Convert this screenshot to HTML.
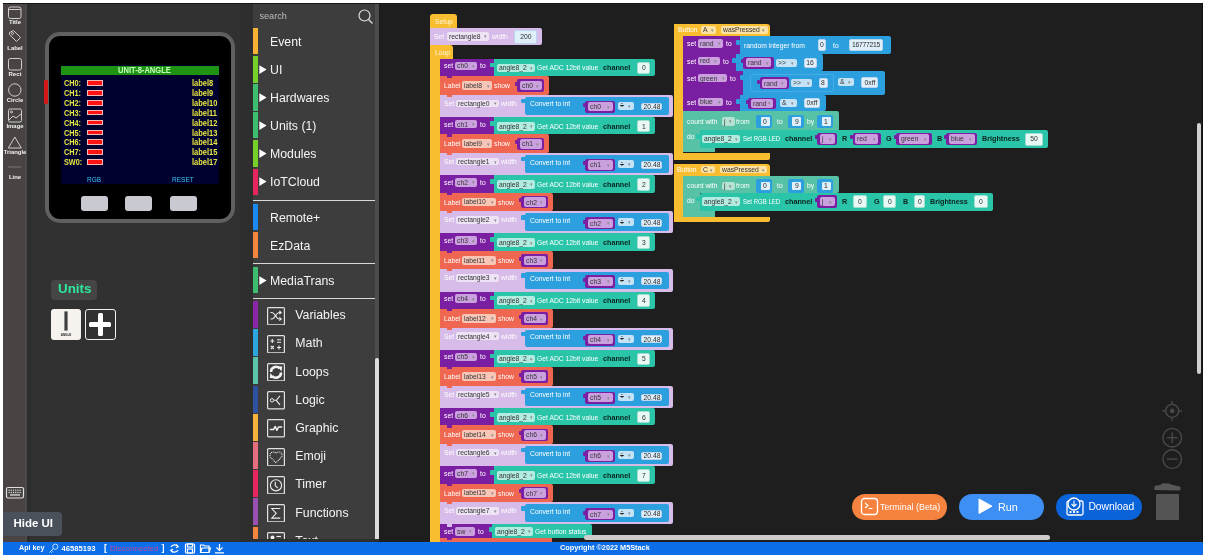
<!DOCTYPE html>
<html><head><meta charset="utf-8"><title>UIFlow</title>
<style>
*{margin:0;padding:0;box-sizing:border-box}
html,body{width:1207px;height:559px;overflow:hidden;background:#fff;font-family:"Liberation Sans",Arial,sans-serif;position:relative}
.a{position:absolute}
.t{position:absolute;white-space:nowrap}
</style></head><body>
<div class="a" style="left:3.00px;top:3.00px;width:1200.00px;height:539.00px;background:#1e1e1e;"></div>
<div class="a" style="left:3.00px;top:3.00px;width:24.00px;height:539.00px;background:#494443;"></div>
<div class="a" style="left:24.50px;top:3.00px;width:2.50px;height:539.00px;background:#4b4a48;"></div>
<div class="a" style="left:27.00px;top:3.00px;width:226.00px;height:539.00px;background:#313131;"></div>
<div class="a" style="left:27.00px;top:3.00px;width:4.00px;height:539.00px;background:#2d2d2d;"></div>
<div class="a" style="left:253.00px;top:3.00px;width:125.00px;height:539.00px;background:#3d3d3d;"></div>
<div class="a" style="left:240.00px;top:3.00px;width:13.00px;height:539.00px;background:#2e2e2e;"></div>
<div class="a" style="left:375.00px;top:3.00px;width:3.50px;height:355.00px;background:#4d4d4d;"></div>
<div class="a" style="left:375.00px;top:358.00px;width:3.50px;height:184.00px;background:#dcdcdc;border-radius:1.5px;"></div>
<div class="a" style="left:378.50px;top:3.00px;width:1.00px;height:539.00px;background:#1a1a1a;"></div>
<div class="a" style="left:3.00px;top:3.00px;width:1200.00px;height:1.00px;background:#151515;"></div>
<div class="a" style="left:1202.00px;top:3.00px;width:1.00px;height:539.00px;background:#111;"></div>
<svg class="a" style="left:3px;top:3px;" width="24" height="185" viewBox="0 0 24 185"><g fill="none" stroke="#cfcfcf" stroke-width="1"><rect x="5.5" y="4" width="12.5" height="11.5" rx="2"/><line x1="6" y1="6.5" x2="17.5" y2="6.5"/><path d="M6.5 29.5 L10.5 27.5 L17.5 34.5 L13.5 38.5 L6.5 31.5 Z" stroke-linejoin="round"/><circle cx="9.5" cy="30.5" r="1"/><rect x="5.5" y="55.5" width="13" height="11.5" rx="2"/><circle cx="11.8" cy="87" r="6.2"/><rect x="5.5" y="106" width="13" height="13" rx="1.5"/><path d="M6 117 L10 113 L13 115 L18 111"/><circle cx="8.5" cy="109" r="1"/><path d="M11.8 134 L5.3 145 L18.3 145 Z" stroke-linejoin="round"/></g><line x1="5" y1="164" x2="18.5" y2="164" stroke="#777" stroke-width="1"/></svg>
<div class="t" style="left:-185.00px;width:400px;text-align:center;top:19.36px;height:7.08px;line-height:7.08px;font-size:5.9px;color:#f2f2f2;font-weight:bold;">Title</div>
<div class="t" style="left:-185.00px;width:400px;text-align:center;top:45.06px;height:7.08px;line-height:7.08px;font-size:5.9px;color:#f2f2f2;font-weight:bold;">Label</div>
<div class="t" style="left:-185.00px;width:400px;text-align:center;top:71.46px;height:7.08px;line-height:7.08px;font-size:5.9px;color:#f2f2f2;font-weight:bold;">Rect</div>
<div class="t" style="left:-185.00px;width:400px;text-align:center;top:97.46px;height:7.08px;line-height:7.08px;font-size:5.9px;color:#f2f2f2;font-weight:bold;">Circle</div>
<div class="t" style="left:-185.00px;width:400px;text-align:center;top:123.06px;height:7.08px;line-height:7.08px;font-size:5.9px;color:#f2f2f2;font-weight:bold;">Image</div>
<div class="t" style="left:-185.00px;width:400px;text-align:center;top:148.96px;height:7.08px;line-height:7.08px;font-size:5.9px;color:#f2f2f2;font-weight:bold;">Triangle</div>
<div class="t" style="left:-185.00px;width:400px;text-align:center;top:174.46px;height:7.08px;line-height:7.08px;font-size:5.9px;color:#f2f2f2;font-weight:bold;">Line</div>
<svg class="a" style="left:5px;top:486px;" width="20" height="14" viewBox="0 0 20 14"><rect x="1.5" y="1.5" width="17" height="10.5" rx="1.5" fill="none" stroke="#e0e0e0" stroke-width="1.2"/><rect x="3.5" y="3.6" width="1.2" height="1.2" fill="#e0e0e0"/><rect x="3.5" y="5.9" width="1.2" height="1.2" fill="#e0e0e0"/><rect x="5.7" y="3.6" width="1.2" height="1.2" fill="#e0e0e0"/><rect x="5.7" y="5.9" width="1.2" height="1.2" fill="#e0e0e0"/><rect x="7.9" y="3.6" width="1.2" height="1.2" fill="#e0e0e0"/><rect x="7.9" y="5.9" width="1.2" height="1.2" fill="#e0e0e0"/><rect x="10.1" y="3.6" width="1.2" height="1.2" fill="#e0e0e0"/><rect x="10.1" y="5.9" width="1.2" height="1.2" fill="#e0e0e0"/><rect x="12.3" y="3.6" width="1.2" height="1.2" fill="#e0e0e0"/><rect x="12.3" y="5.9" width="1.2" height="1.2" fill="#e0e0e0"/><rect x="14.5" y="3.6" width="1.2" height="1.2" fill="#e0e0e0"/><rect x="14.5" y="5.9" width="1.2" height="1.2" fill="#e0e0e0"/><rect x="5" y="8.3" width="10" height="1.3" fill="#e0e0e0"/></svg>
<div class="a" style="left:3.00px;top:512.00px;width:58.70px;height:23.70px;background:#4a515b;border-radius:0 4px 4px 0px;"></div>
<div class="t" style="left:13.40px;top:516.70px;height:13.80px;line-height:13.80px;font-size:11.5px;color:#fff;font-weight:bold;">Hide UI</div>
<div class="a" style="left:44.60px;top:31.70px;width:190.90px;height:190.90px;background:#606060;border-radius:15px;"></div>
<div class="a" style="left:48.60px;top:35.70px;width:182.90px;height:182.90px;background:#000;border-radius:11px;"></div>
<div class="a" style="left:44.00px;top:80.00px;width:3.50px;height:23.50px;background:#d41818;border-radius:1px;"></div>
<div class="a" style="left:61.00px;top:65.00px;width:158.00px;height:119.00px;background:#00002e;"></div>
<div class="a" style="left:61.00px;top:65.50px;width:158.00px;height:9.70px;background:#1e9412;"></div>
<div class="t" style="left:118.10px;top:65.36px;height:10.08px;line-height:10.08px;font-size:8.4px;color:#c4ffbc;font-weight:bold;transform:scaleX(.9);transform-origin:0 50%;">UNIT-8-ANGLE</div>
<div class="t" style="left:63.90px;top:78.14px;height:10.32px;line-height:10.32px;font-size:8.6px;color:#e6e644;font-weight:bold;transform:scaleX(.85);transform-origin:0 50%;">CH0:</div>
<div class="a" style="left:87.00px;top:80.20px;width:15.50px;height:5.60px;background:#ff1212;border:1px solid #f2b8b8;"></div>
<div class="t" style="left:192.20px;top:78.14px;height:10.32px;line-height:10.32px;font-size:8.6px;color:#e6e644;font-weight:bold;transform:scaleX(.87);transform-origin:0 50%;">label8</div>
<div class="t" style="left:63.90px;top:88.02px;height:10.32px;line-height:10.32px;font-size:8.6px;color:#e6e644;font-weight:bold;transform:scaleX(.85);transform-origin:0 50%;">CH1:</div>
<div class="a" style="left:87.00px;top:90.08px;width:15.50px;height:5.60px;background:#ff1212;border:1px solid #f2b8b8;"></div>
<div class="t" style="left:192.20px;top:88.02px;height:10.32px;line-height:10.32px;font-size:8.6px;color:#e6e644;font-weight:bold;transform:scaleX(.87);transform-origin:0 50%;">label9</div>
<div class="t" style="left:63.90px;top:97.90px;height:10.32px;line-height:10.32px;font-size:8.6px;color:#e6e644;font-weight:bold;transform:scaleX(.85);transform-origin:0 50%;">CH2:</div>
<div class="a" style="left:87.00px;top:99.96px;width:15.50px;height:5.60px;background:#ff1212;border:1px solid #f2b8b8;"></div>
<div class="t" style="left:192.20px;top:97.90px;height:10.32px;line-height:10.32px;font-size:8.6px;color:#e6e644;font-weight:bold;transform:scaleX(.87);transform-origin:0 50%;">label10</div>
<div class="t" style="left:63.90px;top:107.78px;height:10.32px;line-height:10.32px;font-size:8.6px;color:#e6e644;font-weight:bold;transform:scaleX(.85);transform-origin:0 50%;">CH3:</div>
<div class="a" style="left:87.00px;top:109.84px;width:15.50px;height:5.60px;background:#ff1212;border:1px solid #f2b8b8;"></div>
<div class="t" style="left:192.20px;top:107.78px;height:10.32px;line-height:10.32px;font-size:8.6px;color:#e6e644;font-weight:bold;transform:scaleX(.87);transform-origin:0 50%;">label11</div>
<div class="t" style="left:63.90px;top:117.66px;height:10.32px;line-height:10.32px;font-size:8.6px;color:#e6e644;font-weight:bold;transform:scaleX(.85);transform-origin:0 50%;">CH4:</div>
<div class="a" style="left:87.00px;top:119.72px;width:15.50px;height:5.60px;background:#ff1212;border:1px solid #f2b8b8;"></div>
<div class="t" style="left:192.20px;top:117.66px;height:10.32px;line-height:10.32px;font-size:8.6px;color:#e6e644;font-weight:bold;transform:scaleX(.87);transform-origin:0 50%;">label12</div>
<div class="t" style="left:63.90px;top:127.54px;height:10.32px;line-height:10.32px;font-size:8.6px;color:#e6e644;font-weight:bold;transform:scaleX(.85);transform-origin:0 50%;">CH5:</div>
<div class="a" style="left:87.00px;top:129.60px;width:15.50px;height:5.60px;background:#ff1212;border:1px solid #f2b8b8;"></div>
<div class="t" style="left:192.20px;top:127.54px;height:10.32px;line-height:10.32px;font-size:8.6px;color:#e6e644;font-weight:bold;transform:scaleX(.87);transform-origin:0 50%;">label13</div>
<div class="t" style="left:63.90px;top:137.42px;height:10.32px;line-height:10.32px;font-size:8.6px;color:#e6e644;font-weight:bold;transform:scaleX(.85);transform-origin:0 50%;">CH6:</div>
<div class="a" style="left:87.00px;top:139.48px;width:15.50px;height:5.60px;background:#ff1212;border:1px solid #f2b8b8;"></div>
<div class="t" style="left:192.20px;top:137.42px;height:10.32px;line-height:10.32px;font-size:8.6px;color:#e6e644;font-weight:bold;transform:scaleX(.87);transform-origin:0 50%;">label14</div>
<div class="t" style="left:63.90px;top:147.30px;height:10.32px;line-height:10.32px;font-size:8.6px;color:#e6e644;font-weight:bold;transform:scaleX(.85);transform-origin:0 50%;">CH7:</div>
<div class="a" style="left:87.00px;top:149.36px;width:15.50px;height:5.60px;background:#ff1212;border:1px solid #f2b8b8;"></div>
<div class="t" style="left:192.20px;top:147.30px;height:10.32px;line-height:10.32px;font-size:8.6px;color:#e6e644;font-weight:bold;transform:scaleX(.87);transform-origin:0 50%;">label15</div>
<div class="t" style="left:63.90px;top:157.18px;height:10.32px;line-height:10.32px;font-size:8.6px;color:#e6e644;font-weight:bold;transform:scaleX(.85);transform-origin:0 50%;">SW0:</div>
<div class="a" style="left:87.00px;top:159.24px;width:15.50px;height:5.60px;background:#ff1212;border:1px solid #f2b8b8;"></div>
<div class="t" style="left:192.20px;top:157.18px;height:10.32px;line-height:10.32px;font-size:8.6px;color:#e6e644;font-weight:bold;transform:scaleX(.87);transform-origin:0 50%;">label17</div>
<div class="t" style="left:87.40px;top:174.74px;height:9.12px;line-height:9.12px;font-size:7.6px;color:#3cc3f0;transform:scaleX(.86);transform-origin:0 50%;">RGB</div>
<div class="t" style="left:171.50px;top:174.74px;height:9.12px;line-height:9.12px;font-size:7.6px;color:#3cc3f0;transform:scaleX(.86);transform-origin:0 50%;">RESET</div>
<div class="a" style="left:80.70px;top:195.70px;width:27.40px;height:15.00px;background:#c9c9d1;border-radius:3px;"></div>
<div class="a" style="left:125.00px;top:195.70px;width:27.40px;height:15.00px;background:#c9c9d1;border-radius:3px;"></div>
<div class="a" style="left:169.60px;top:195.70px;width:27.40px;height:15.00px;background:#c9c9d1;border-radius:3px;"></div>
<div class="a" style="left:51.00px;top:280.00px;width:46.00px;height:20.00px;background:#454545;border-radius:4px;"></div>
<div class="t" style="left:58.00px;top:281.26px;height:16.08px;line-height:16.08px;font-size:13.4px;color:#2ee89c;font-weight:bold;">Units</div>
<div class="a" style="left:50.70px;top:308.60px;width:30.70px;height:31.40px;background:#f6f3ef;border-radius:3px;"></div>
<div class="a" style="left:63.60px;top:310.70px;width:4.40px;height:20.70px;background:#3f3f3f;border-radius:1px;border:0.5px solid #888;"></div>
<div class="t" style="left:-134.00px;width:400px;text-align:center;top:333.70px;height:3.60px;line-height:3.60px;font-size:3px;color:#222;font-weight:bold;">ANGLE</div>
<div class="a" style="left:85.00px;top:308.60px;width:30.70px;height:31.40px;background:transparent;border-radius:3px;border:1.6px solid #f0f0f0;"></div>
<div class="a" style="left:89.00px;top:321.80px;width:22.40px;height:5.00px;background:#fff;border-radius:1.5px;"></div>
<div class="a" style="left:97.80px;top:312.50px;width:5.00px;height:23.50px;background:#fff;border-radius:1.5px;"></div>
<div class="t" style="left:259.50px;top:11.14px;height:10.92px;line-height:10.92px;font-size:9.1px;color:#bdbdbd;">search</div>
<svg class="a" style="left:357px;top:8px;" width="18" height="18" viewBox="0 0 18 18"><circle cx="7.5" cy="7.5" r="5.5" fill="none" stroke="#dedede" stroke-width="1.2"/><line x1="11.5" y1="11.5" x2="15.5" y2="15.5" stroke="#dedede" stroke-width="1.3"/></svg>
<div class="a" style="left:253.00px;top:28.00px;width:5.00px;height:26.00px;background:#f8b133;"></div>
<div class="t" style="left:270.00px;top:34.62px;height:14.76px;line-height:14.76px;font-size:12.3px;color:#f4f4f4;">Event</div>
<div class="a" style="left:253.00px;top:56.00px;width:5.00px;height:26.50px;background:#77cf2a;"></div>
<svg class="a" style="left:259.4px;top:64.95px;" width="8" height="10" viewBox="0 0 8 10"><path d="M0.3 0.3 L7.6 4.6 L0.3 8.9 Z" fill="#fff"/></svg>
<div class="t" style="left:270.00px;top:62.87px;height:14.76px;line-height:14.76px;font-size:12.3px;color:#f4f4f4;">UI</div>
<div class="a" style="left:253.00px;top:84.00px;width:5.00px;height:26.60px;background:#3cbd6f;"></div>
<svg class="a" style="left:259.4px;top:93.0px;" width="8" height="10" viewBox="0 0 8 10"><path d="M0.3 0.3 L7.6 4.6 L0.3 8.9 Z" fill="#fff"/></svg>
<div class="t" style="left:270.00px;top:90.92px;height:14.76px;line-height:14.76px;font-size:12.3px;color:#f4f4f4;">Hardwares</div>
<div class="a" style="left:253.00px;top:112.00px;width:5.00px;height:26.00px;background:#3cbd6f;"></div>
<svg class="a" style="left:259.4px;top:120.7px;" width="8" height="10" viewBox="0 0 8 10"><path d="M0.3 0.3 L7.6 4.6 L0.3 8.9 Z" fill="#fff"/></svg>
<div class="t" style="left:270.00px;top:118.62px;height:14.76px;line-height:14.76px;font-size:12.3px;color:#f4f4f4;">Units (1)</div>
<div class="a" style="left:253.00px;top:140.00px;width:5.00px;height:26.50px;background:#77cf2a;"></div>
<svg class="a" style="left:259.4px;top:148.95px;" width="8" height="10" viewBox="0 0 8 10"><path d="M0.3 0.3 L7.6 4.6 L0.3 8.9 Z" fill="#fff"/></svg>
<div class="t" style="left:270.00px;top:146.87px;height:14.76px;line-height:14.76px;font-size:12.3px;color:#f4f4f4;">Modules</div>
<div class="a" style="left:253.00px;top:168.50px;width:5.00px;height:26.50px;background:#e7265e;"></div>
<svg class="a" style="left:259.4px;top:177.45px;" width="8" height="10" viewBox="0 0 8 10"><path d="M0.3 0.3 L7.6 4.6 L0.3 8.9 Z" fill="#fff"/></svg>
<div class="t" style="left:270.00px;top:175.37px;height:14.76px;line-height:14.76px;font-size:12.3px;color:#f4f4f4;">IoTCloud</div>
<div class="a" style="left:253.00px;top:204.00px;width:5.00px;height:26.20px;background:#1a8af0;"></div>
<div class="t" style="left:270.00px;top:210.72px;height:14.76px;line-height:14.76px;font-size:12.3px;color:#f4f4f4;">Remote+</div>
<div class="a" style="left:253.00px;top:232.00px;width:5.00px;height:26.00px;background:#f5843f;"></div>
<div class="t" style="left:270.00px;top:238.62px;height:14.76px;line-height:14.76px;font-size:12.3px;color:#f4f4f4;">EzData</div>
<div class="a" style="left:253.00px;top:267.00px;width:5.00px;height:26.00px;background:#3cbd6f;"></div>
<svg class="a" style="left:259.4px;top:275.7px;" width="8" height="10" viewBox="0 0 8 10"><path d="M0.3 0.3 L7.6 4.6 L0.3 8.9 Z" fill="#fff"/></svg>
<div class="t" style="left:270.00px;top:273.62px;height:14.76px;line-height:14.76px;font-size:12.3px;color:#f4f4f4;">MediaTrans</div>
<div class="a" style="left:253.00px;top:200.00px;width:121.50px;height:1.20px;background:#d8d8d8;"></div>
<div class="a" style="left:253.00px;top:263.00px;width:121.50px;height:1.20px;background:#d8d8d8;"></div>
<div class="a" style="left:253.00px;top:298.00px;width:121.50px;height:1.20px;background:#d8d8d8;"></div>
<div class="a" style="left:253.00px;top:301.00px;width:5.00px;height:27.00px;background:#8b25a9;"></div>
<svg class="a" style="left:266.8px;top:306.5px;" width="18" height="18.5" viewBox="0 0 18 18.5"><rect x="0.6" y="0.6" width="16.8" height="17.3" rx="1" fill="none" stroke="#e2e2e2" stroke-width="1.2"/><path d="M3.5 5.5 L5 5.5 C8 5.5 9 12 12 12 L14 12 M3.5 12 L5 12 C8 12 9 5.5 12 5.5 L14 5.5" fill="none" stroke="#eee" stroke-width="1.2"/><path d="M12.3 3.8 L14.2 5.5 L12.3 7.2 M12.3 10.3 L14.2 12 L12.3 13.7" fill="none" stroke="#eee" stroke-width="1.1"/></svg>
<div class="t" style="left:295.30px;top:308.12px;height:14.76px;line-height:14.76px;font-size:12.3px;color:#f4f4f4;">Variables</div>
<div class="a" style="left:253.00px;top:329.20px;width:5.00px;height:27.00px;background:#2ca6df;"></div>
<svg class="a" style="left:266.8px;top:334.7px;" width="18" height="18.5" viewBox="0 0 18 18.5"><rect x="0.6" y="0.6" width="16.8" height="17.3" rx="1" fill="none" stroke="#e2e2e2" stroke-width="1.2"/><path d="M3.3 6 L7.3 6 M5.3 4 L5.3 8 M10 4.8 L14 4.8 M10 7.2 L14 7.2 M3.8 11 L6.8 14 M6.8 11 L3.8 14 M10 12.5 L14 12.5 M12 10.5 L12 14.5" fill="none" stroke="#eee" stroke-width="1.1"/></svg>
<div class="t" style="left:295.30px;top:336.32px;height:14.76px;line-height:14.76px;font-size:12.3px;color:#f4f4f4;">Math</div>
<div class="a" style="left:253.00px;top:357.40px;width:5.00px;height:27.00px;background:#5ac5a8;"></div>
<svg class="a" style="left:266.8px;top:362.9px;" width="18" height="18.5" viewBox="0 0 18 18.5"><rect x="0.6" y="0.6" width="16.8" height="17.3" rx="1" fill="none" stroke="#e2e2e2" stroke-width="1.2"/><path d="M4 9 A5 5 0 0 1 12.6 5.4" fill="none" stroke="#f2f2f2" stroke-width="2.6"/><path d="M10.3 3.2 L15.2 3.6 L14.6 8.5 Z" fill="#f2f2f2"/><path d="M14 9.5 A5 5 0 0 1 5.4 13.1" fill="none" stroke="#f2f2f2" stroke-width="2.6"/><path d="M7.7 15.3 L2.8 14.9 L3.4 10 Z" fill="#f2f2f2"/></svg>
<div class="t" style="left:295.30px;top:364.52px;height:14.76px;line-height:14.76px;font-size:12.3px;color:#f4f4f4;">Loops</div>
<div class="a" style="left:253.00px;top:385.60px;width:5.00px;height:27.00px;background:#2f52a0;"></div>
<svg class="a" style="left:266.8px;top:391.1px;" width="18" height="18.5" viewBox="0 0 18 18.5"><rect x="0.6" y="0.6" width="16.8" height="17.3" rx="1" fill="none" stroke="#e2e2e2" stroke-width="1.2"/><circle cx="5" cy="9.3" r="1.7" fill="none" stroke="#eee" stroke-width="1"/><path d="M7 9.3 L9.3 9.3 L13 4.8 M9.3 9.3 L13 13.8" fill="none" stroke="#eee" stroke-width="1.1"/></svg>
<div class="t" style="left:295.30px;top:392.72px;height:14.76px;line-height:14.76px;font-size:12.3px;color:#f4f4f4;">Logic</div>
<div class="a" style="left:253.00px;top:413.80px;width:5.00px;height:27.00px;background:#f6b33c;"></div>
<svg class="a" style="left:266.8px;top:419.3px;" width="18" height="18.5" viewBox="0 0 18 18.5"><rect x="0.6" y="0.6" width="16.8" height="17.3" rx="1" fill="none" stroke="#e2e2e2" stroke-width="1.2"/><path d="M2.8 10.5 L6.5 10.5 L8.3 7.5 L9.8 11.3 L11.5 8 L15.2 8" fill="none" stroke="#eee" stroke-width="1.5" stroke-linejoin="round"/></svg>
<div class="t" style="left:295.30px;top:420.92px;height:14.76px;line-height:14.76px;font-size:12.3px;color:#f4f4f4;">Graphic</div>
<div class="a" style="left:253.00px;top:442.00px;width:5.00px;height:27.00px;background:#e56e7e;"></div>
<svg class="a" style="left:266.8px;top:447.5px;" width="18" height="18.5" viewBox="0 0 18 18.5"><rect x="0.6" y="0.6" width="16.8" height="17.3" rx="1" fill="none" stroke="#e2e2e2" stroke-width="1.2"/><path d="M9 14.8 L3.6 9.3 A2.9 2.9 0 0 1 9 5.3 A2.9 2.9 0 0 1 14.4 9.3 Z" fill="none" stroke="#eee" stroke-width="1.1" stroke-dasharray="1 0.8"/></svg>
<div class="t" style="left:295.30px;top:449.12px;height:14.76px;line-height:14.76px;font-size:12.3px;color:#f4f4f4;">Emoji</div>
<div class="a" style="left:253.00px;top:470.20px;width:5.00px;height:27.00px;background:#e7265e;"></div>
<svg class="a" style="left:266.8px;top:475.7px;" width="18" height="18.5" viewBox="0 0 18 18.5"><rect x="0.6" y="0.6" width="16.8" height="17.3" rx="1" fill="none" stroke="#e2e2e2" stroke-width="1.2"/><circle cx="9" cy="9.3" r="5.6" fill="none" stroke="#eee" stroke-width="1.1"/><path d="M8.3 5.8 L8.3 9.8 L10.8 12" fill="none" stroke="#eee" stroke-width="1.1"/></svg>
<div class="t" style="left:295.30px;top:477.32px;height:14.76px;line-height:14.76px;font-size:12.3px;color:#f4f4f4;">Timer</div>
<div class="a" style="left:253.00px;top:498.40px;width:5.00px;height:27.00px;background:#9950b2;"></div>
<svg class="a" style="left:266.8px;top:503.9px;" width="18" height="18.5" viewBox="0 0 18 18.5"><rect x="0.6" y="0.6" width="16.8" height="17.3" rx="1" fill="none" stroke="#e2e2e2" stroke-width="1.2"/><path d="M13.3 4.5 L4.8 4.5 L9.2 9.3 L4.8 14.1 L13.3 14.1" fill="none" stroke="#eee" stroke-width="1.1"/></svg>
<div class="t" style="left:295.30px;top:505.52px;height:14.76px;line-height:14.76px;font-size:12.3px;color:#f4f4f4;">Functions</div>
<div class="a" style="left:253.00px;top:526.60px;width:5.00px;height:15.40px;background:#f5843f;"></div>
<svg class="a" style="left:266.8px;top:532.1px;" width="18" height="18.5" viewBox="0 0 18 18.5"><rect x="0.6" y="0.6" width="16.8" height="17.3" rx="1" fill="none" stroke="#e2e2e2" stroke-width="1.2"/><circle cx="5.5" cy="5.5" r="2" fill="#eee"/><path d="M9.5 4.5 L14 4.5" stroke="#eee" stroke-width="1.2"/></svg>
<div class="t" style="left:295.30px;top:533.72px;height:14.76px;line-height:14.76px;font-size:12.3px;color:#f4f4f4;">Text</div>
<div class="a" style="left:240.00px;top:539.30px;width:138.50px;height:2.70px;background:#2f2f2f;"></div>
<svg class="a" style="left:1160px;top:398px;" width="25" height="75" viewBox="0 0 25 75"><g fill="none" stroke="#494949" stroke-width="1.4"><circle cx="12.2" cy="12.9" r="6.5"/><line x1="12.2" y1="3" x2="12.2" y2="6.4"/><line x1="12.2" y1="19.4" x2="12.2" y2="22.8"/><line x1="2.3" y1="12.9" x2="5.7" y2="12.9"/><line x1="18.7" y1="12.9" x2="22.1" y2="12.9"/><circle cx="12.2" cy="39.7" r="9.3"/><line x1="7" y1="39.7" x2="17.4" y2="39.7"/><line x1="12.2" y1="34.5" x2="12.2" y2="44.9"/><circle cx="12.2" cy="61.1" r="9.3"/><line x1="7" y1="61.1" x2="17.4" y2="61.1"/></g><circle cx="12.2" cy="12.9" r="2.3" fill="#494949"/></svg>
<svg class="a" style="left:1152px;top:480px;" width="32" height="14" viewBox="0 0 32 14"><path d="M2.5 6 L8 5 L11 3.2 L17 3.4 L19 4.6 L28.5 6.8 L28.3 10.6 L2.3 10 Z" fill="#575757"/></svg>
<div class="a" style="left:1155.70px;top:493.70px;width:23.00px;height:26.00px;background:#545454;border-radius:1px;"></div>
<div class="a" style="left:852.00px;top:494.00px;width:95.00px;height:26.00px;background:#f5823f;border-radius:13px;"></div>
<svg class="a" style="left:860px;top:497px;" width="19" height="19" viewBox="0 0 19 19"><rect x="1.5" y="1.5" width="16" height="16" rx="3" fill="none" stroke="#fff" stroke-width="1.3"/><path d="M5 6 L8 8.5 L5 11" fill="none" stroke="#fff" stroke-width="1.1"/><line x1="8.5" y1="11.5" x2="12.5" y2="11.5" stroke="#fff" stroke-width="1.1"/></svg>
<div class="t" style="left:880.00px;top:501.96px;height:10.68px;line-height:10.68px;font-size:8.9px;color:#fff;">Terminal (Beta)</div>
<div class="a" style="left:958.70px;top:494.00px;width:85.60px;height:26.00px;background:#3e8ff3;border-radius:13px;"></div>
<svg class="a" style="left:978px;top:498px;" width="15" height="17" viewBox="0 0 15 17"><path d="M1 1 L14 8.2 L1 15.5 Z" fill="#fff" stroke="#fff" stroke-width="1" stroke-linejoin="round"/></svg>
<div class="t" style="left:998.00px;top:500.52px;height:12.96px;line-height:12.96px;font-size:10.8px;color:#fff;">Run</div>
<div class="a" style="left:1056.00px;top:494.00px;width:86.00px;height:26.00px;background:#0b63da;border-radius:13px;"></div>
<svg class="a" style="left:1065px;top:496px;" width="20" height="21" viewBox="0 0 20 21"><rect x="2" y="5" width="16" height="14" rx="1.5" fill="none" stroke="#fff" stroke-width="1.3"/><circle cx="9" cy="8" r="6" fill="#0b63da" stroke="#fff" stroke-width="1.3"/><path d="M9 4.5 L9 10.5 M6.5 8 L9 10.5 L11.5 8" fill="none" stroke="#fff" stroke-width="1.1"/><rect x="4.5" y="15" width="2" height="2" fill="#fff"/><rect x="8" y="15" width="2" height="2" fill="#fff"/><rect x="11.5" y="15" width="2" height="2" fill="#fff"/></svg>
<div class="t" style="left:1088.40px;top:500.82px;height:12.36px;line-height:12.36px;font-size:10.3px;color:#fff;">Download</div>
<div class="a" style="left:430.00px;top:14.30px;width:27.00px;height:14.00px;background:#f8be30;border-radius:3px 3px 0 0px;"></div>
<div class="t" style="left:434.50px;top:17.24px;height:9.12px;line-height:9.12px;font-size:7.6px;color:#fff8e0;transform:scaleX(.89);transform-origin:0 50%;">Setup</div>
<div class="a" style="left:430.00px;top:27.70px;width:111.70px;height:17.70px;background:#d7bbe9;border-radius:0 2px 2px 0px;"></div>
<div class="t" style="left:433.50px;top:31.74px;height:9.12px;line-height:9.12px;font-size:7.6px;color:#fff;transform:scaleX(.89);transform-origin:0 50%;">Set</div>
<div class="a" style="left:447.00px;top:32.00px;width:42.40px;height:8.60px;background:#eee3f5;border-radius:2px;"></div>
<div class="t" style="left:449.20px;top:31.74px;height:9.12px;line-height:9.12px;font-size:7.6px;color:#333;transform:scaleX(.89);transform-origin:0 50%;">rectangle8</div>
<div class="t" style="left:483.90px;top:33.30px;height:6.00px;line-height:6.00px;font-size:5px;color:#888;">▾</div>
<div class="t" style="left:492.00px;top:31.74px;height:9.12px;line-height:9.12px;font-size:7.6px;color:#fff;transform:scaleX(.89);transform-origin:0 50%;">width</div>
<div class="a" style="left:514.00px;top:30.00px;width:23.20px;height:13.60px;background:#e0f0fa;border-radius:2px;border:1px solid #bcd5ef;"></div>
<div class="t" style="left:325.60px;width:400px;text-align:center;top:32.24px;height:9.12px;line-height:9.12px;font-size:7.6px;color:#2a2a2a;transform:scaleX(.89);transform-origin:50% 50%;">200</div>
<div class="a" style="left:430.00px;top:45.40px;width:9.50px;height:500.00px;background:#f8be30;"></div>
<div class="a" style="left:430.00px;top:45.40px;width:23.40px;height:14.00px;background:#f8be30;border-radius:0 3px 0 0px;"></div>
<div class="t" style="left:435.00px;top:48.44px;height:9.12px;line-height:9.12px;font-size:7.6px;color:#fff8e0;transform:scaleX(.89);transform-origin:0 50%;">Loop</div>
<div class="a" style="left:440.00px;top:58.80px;width:56.00px;height:17.40px;background:#7b1fa2;border-radius:0 0 0 2pxpx;"></div>
<div class="a" style="left:446.50px;top:75.80px;width:5.00px;height:2.20px;background:#7b1fa2;border-radius:0 0 2px 2pxpx;"></div>
<div class="t" style="left:443.50px;top:61.44px;height:9.12px;line-height:9.12px;font-size:7.6px;color:#fff;transform:scaleX(.89);transform-origin:0 50%;">set</div>
<div class="a" style="left:455.00px;top:61.50px;width:22.00px;height:8.80px;background:#caa1de;border-radius:2px;"></div>
<div class="t" style="left:457.20px;top:61.34px;height:9.12px;line-height:9.12px;font-size:7.6px;color:#333;transform:scaleX(.89);transform-origin:0 50%;">ch0</div>
<div class="t" style="left:471.50px;top:62.90px;height:6.00px;line-height:6.00px;font-size:5px;color:#888;">▾</div>
<div class="t" style="left:480.00px;top:61.44px;height:9.12px;line-height:9.12px;font-size:7.6px;color:#fff;transform:scaleX(.89);transform-origin:0 50%;">to</div>
<div class="a" style="left:490.30px;top:62.80px;width:4.50px;height:4.50px;background:#2ac4a9;border-radius:1px;"></div>
<div class="a" style="left:494.00px;top:58.80px;width:161.00px;height:17.40px;background:#2ac4a9;border-radius:0 2px 2px 0px;"></div>
<div class="a" style="left:496.50px;top:63.60px;width:38.50px;height:8.90px;background:#b2ebdf;border-radius:2px;"></div>
<div class="t" style="left:498.70px;top:63.49px;height:9.12px;line-height:9.12px;font-size:7.6px;color:#333;transform:scaleX(.89);transform-origin:0 50%;">angle8_2</div>
<div class="t" style="left:529.50px;top:65.05px;height:6.00px;line-height:6.00px;font-size:5px;color:#888;">▾</div>
<div class="t" style="left:537.00px;top:63.34px;height:9.12px;line-height:9.12px;font-size:7.6px;color:#fff;transform:scaleX(.89);transform-origin:0 50%;">Get ADC 12bit value</div>
<div class="t" style="left:603.00px;top:63.34px;height:9.12px;line-height:9.12px;font-size:7.6px;color:#0a231d;font-weight:bold;transform:scaleX(.95);transform-origin:0 50%;">channel</div>
<div class="a" style="left:637.40px;top:61.60px;width:12.60px;height:12.60px;background:#e8f8f4;border-radius:2px;border:1px solid #a3dfd1;"></div>
<div class="t" style="left:443.70px;width:400px;text-align:center;top:63.34px;height:9.12px;line-height:9.12px;font-size:7.6px;color:#2a2a2a;transform:scaleX(.89);transform-origin:50% 50%;">0</div>
<div class="a" style="left:440.00px;top:76.20px;width:108.50px;height:18.50px;background:#ef6750;border-radius:0 2px 2px 0px;"></div>
<div class="a" style="left:446.50px;top:94.40px;width:5.00px;height:2.20px;background:#ef6750;border-radius:0 0 2px 2pxpx;"></div>
<div class="a" style="left:446.50px;top:76.20px;width:5.00px;height:2.20px;background:#7b1fa2;border-radius:0 0 2px 2pxpx;"></div>
<div class="t" style="left:444.00px;top:81.14px;height:9.12px;line-height:9.12px;font-size:7.6px;color:#fff;transform:scaleX(.89);transform-origin:0 50%;">Label</div>
<div class="a" style="left:462.20px;top:81.10px;width:30.00px;height:8.90px;background:#f8c6b6;border-radius:2px;"></div>
<div class="t" style="left:464.40px;top:80.99px;height:9.12px;line-height:9.12px;font-size:7.6px;color:#333;transform:scaleX(.89);transform-origin:0 50%;">label8</div>
<div class="t" style="left:486.70px;top:82.55px;height:6.00px;line-height:6.00px;font-size:5px;color:#888;">▾</div>
<div class="t" style="left:494.20px;top:81.14px;height:9.12px;line-height:9.12px;font-size:7.6px;color:#fff;transform:scaleX(.89);transform-origin:0 50%;">show</div>
<div class="a" style="left:514.70px;top:81.90px;width:3.00px;height:4.00px;background:#7b1fa2;border-radius:1px;"></div>
<div class="a" style="left:517.20px;top:79.40px;width:27.00px;height:12.60px;background:#7b1fa2;border-radius:2px;"></div>
<div class="a" style="left:519.70px;top:80.90px;width:22.00px;height:9.60px;background:#caa1de;border-radius:2px;"></div>
<div class="t" style="left:521.90px;top:81.14px;height:9.12px;line-height:9.12px;font-size:7.6px;color:#333;transform:scaleX(.89);transform-origin:0 50%;">ch0</div>
<div class="t" style="left:536.20px;top:82.70px;height:6.00px;line-height:6.00px;font-size:5px;color:#888;">▾</div>
<div class="a" style="left:440.00px;top:94.70px;width:233.00px;height:22.30px;background:#d7bbe9;border-radius:0 2px 2px 0px;"></div>
<div class="a" style="left:446.50px;top:94.70px;width:5.00px;height:2.20px;background:#ef6750;border-radius:0 0 2px 2pxpx;"></div>
<div class="t" style="left:443.80px;top:98.74px;height:9.12px;line-height:9.12px;font-size:7.6px;color:#fff;transform:scaleX(.89);transform-origin:0 50%;">Set</div>
<div class="a" style="left:455.70px;top:99.50px;width:43.30px;height:7.80px;background:#eee3f5;border-radius:2px;"></div>
<div class="t" style="left:457.90px;top:98.84px;height:9.12px;line-height:9.12px;font-size:7.6px;color:#333;transform:scaleX(.89);transform-origin:0 50%;">rectangle0</div>
<div class="t" style="left:493.50px;top:100.40px;height:6.00px;line-height:6.00px;font-size:5px;color:#888;">▾</div>
<div class="t" style="left:501.40px;top:98.74px;height:9.12px;line-height:9.12px;font-size:7.6px;color:#fff;transform:scaleX(.89);transform-origin:0 50%;">width</div>
<div class="a" style="left:521.00px;top:98.70px;width:4.50px;height:4.50px;background:#2c9fde;border-radius:1px;"></div>
<div class="a" style="left:524.60px;top:97.00px;width:144.60px;height:17.60px;background:#2c9fde;border-radius:2px;"></div>
<div class="t" style="left:530.00px;top:99.44px;height:9.12px;line-height:9.12px;font-size:7.6px;color:#fff;transform:scaleX(.89);transform-origin:0 50%;">Convert to int</div>
<div class="a" style="left:582.50px;top:103.20px;width:3.00px;height:4.00px;background:#7b1fa2;border-radius:1px;"></div>
<div class="a" style="left:585.00px;top:100.70px;width:30.00px;height:12.30px;background:#7b1fa2;border-radius:2px;"></div>
<div class="a" style="left:587.50px;top:102.20px;width:25.00px;height:9.30px;background:#caa1de;border-radius:2px;"></div>
<div class="t" style="left:589.70px;top:102.29px;height:9.12px;line-height:9.12px;font-size:7.6px;color:#333;transform:scaleX(.89);transform-origin:0 50%;">ch0</div>
<div class="t" style="left:607.00px;top:103.85px;height:6.00px;line-height:6.00px;font-size:5px;color:#888;">▾</div>
<div class="a" style="left:618.00px;top:102.00px;width:15.80px;height:8.00px;background:#c4e3f7;border-radius:2px;"></div>
<div class="t" style="left:620.20px;top:101.44px;height:9.12px;line-height:9.12px;font-size:7.6px;color:#222;font-weight:bold;transform:scaleX(.95);transform-origin:0 50%;">÷</div>
<div class="t" style="left:628.30px;top:103.00px;height:6.00px;line-height:6.00px;font-size:5px;color:#888;">▾</div>
<div class="a" style="left:641.00px;top:102.60px;width:21.00px;height:7.80px;background:#e0f0fa;border-radius:2px;border:1px solid #bcd5ef;"></div>
<div class="t" style="left:451.50px;width:400px;text-align:center;top:101.94px;height:9.12px;line-height:9.12px;font-size:7.6px;color:#2a2a2a;transform:scaleX(.89);transform-origin:50% 50%;">20.48</div>
<div class="a" style="left:440.00px;top:117.00px;width:56.00px;height:17.40px;background:#7b1fa2;border-radius:0 0 0 2pxpx;"></div>
<div class="a" style="left:446.50px;top:134.00px;width:5.00px;height:2.20px;background:#7b1fa2;border-radius:0 0 2px 2pxpx;"></div>
<div class="t" style="left:443.50px;top:119.64px;height:9.12px;line-height:9.12px;font-size:7.6px;color:#fff;transform:scaleX(.89);transform-origin:0 50%;">set</div>
<div class="a" style="left:455.00px;top:119.70px;width:22.00px;height:8.80px;background:#caa1de;border-radius:2px;"></div>
<div class="t" style="left:457.20px;top:119.54px;height:9.12px;line-height:9.12px;font-size:7.6px;color:#333;transform:scaleX(.89);transform-origin:0 50%;">ch1</div>
<div class="t" style="left:471.50px;top:121.10px;height:6.00px;line-height:6.00px;font-size:5px;color:#888;">▾</div>
<div class="t" style="left:480.00px;top:119.64px;height:9.12px;line-height:9.12px;font-size:7.6px;color:#fff;transform:scaleX(.89);transform-origin:0 50%;">to</div>
<div class="a" style="left:490.30px;top:121.00px;width:4.50px;height:4.50px;background:#2ac4a9;border-radius:1px;"></div>
<div class="a" style="left:494.00px;top:117.00px;width:161.00px;height:17.40px;background:#2ac4a9;border-radius:0 2px 2px 0px;"></div>
<div class="a" style="left:496.50px;top:121.80px;width:38.50px;height:8.90px;background:#b2ebdf;border-radius:2px;"></div>
<div class="t" style="left:498.70px;top:121.69px;height:9.12px;line-height:9.12px;font-size:7.6px;color:#333;transform:scaleX(.89);transform-origin:0 50%;">angle8_2</div>
<div class="t" style="left:529.50px;top:123.25px;height:6.00px;line-height:6.00px;font-size:5px;color:#888;">▾</div>
<div class="t" style="left:537.00px;top:121.54px;height:9.12px;line-height:9.12px;font-size:7.6px;color:#fff;transform:scaleX(.89);transform-origin:0 50%;">Get ADC 12bit value</div>
<div class="t" style="left:603.00px;top:121.54px;height:9.12px;line-height:9.12px;font-size:7.6px;color:#0a231d;font-weight:bold;transform:scaleX(.95);transform-origin:0 50%;">channel</div>
<div class="a" style="left:637.40px;top:119.80px;width:12.60px;height:12.60px;background:#e8f8f4;border-radius:2px;border:1px solid #a3dfd1;"></div>
<div class="t" style="left:443.70px;width:400px;text-align:center;top:121.54px;height:9.12px;line-height:9.12px;font-size:7.6px;color:#2a2a2a;transform:scaleX(.89);transform-origin:50% 50%;">1</div>
<div class="a" style="left:440.00px;top:134.40px;width:108.50px;height:18.50px;background:#ef6750;border-radius:0 2px 2px 0px;"></div>
<div class="a" style="left:446.50px;top:152.60px;width:5.00px;height:2.20px;background:#ef6750;border-radius:0 0 2px 2pxpx;"></div>
<div class="a" style="left:446.50px;top:134.40px;width:5.00px;height:2.20px;background:#7b1fa2;border-radius:0 0 2px 2pxpx;"></div>
<div class="t" style="left:444.00px;top:139.34px;height:9.12px;line-height:9.12px;font-size:7.6px;color:#fff;transform:scaleX(.89);transform-origin:0 50%;">Label</div>
<div class="a" style="left:462.20px;top:139.30px;width:30.00px;height:8.90px;background:#f8c6b6;border-radius:2px;"></div>
<div class="t" style="left:464.40px;top:139.19px;height:9.12px;line-height:9.12px;font-size:7.6px;color:#333;transform:scaleX(.89);transform-origin:0 50%;">label9</div>
<div class="t" style="left:486.70px;top:140.75px;height:6.00px;line-height:6.00px;font-size:5px;color:#888;">▾</div>
<div class="t" style="left:494.20px;top:139.34px;height:9.12px;line-height:9.12px;font-size:7.6px;color:#fff;transform:scaleX(.89);transform-origin:0 50%;">show</div>
<div class="a" style="left:514.70px;top:140.10px;width:3.00px;height:4.00px;background:#7b1fa2;border-radius:1px;"></div>
<div class="a" style="left:517.20px;top:137.60px;width:27.00px;height:12.60px;background:#7b1fa2;border-radius:2px;"></div>
<div class="a" style="left:519.70px;top:139.10px;width:22.00px;height:9.60px;background:#caa1de;border-radius:2px;"></div>
<div class="t" style="left:521.90px;top:139.34px;height:9.12px;line-height:9.12px;font-size:7.6px;color:#333;transform:scaleX(.89);transform-origin:0 50%;">ch1</div>
<div class="t" style="left:536.20px;top:140.90px;height:6.00px;line-height:6.00px;font-size:5px;color:#888;">▾</div>
<div class="a" style="left:440.00px;top:152.90px;width:233.00px;height:22.30px;background:#d7bbe9;border-radius:0 2px 2px 0px;"></div>
<div class="a" style="left:446.50px;top:152.90px;width:5.00px;height:2.20px;background:#ef6750;border-radius:0 0 2px 2pxpx;"></div>
<div class="t" style="left:443.80px;top:156.94px;height:9.12px;line-height:9.12px;font-size:7.6px;color:#fff;transform:scaleX(.89);transform-origin:0 50%;">Set</div>
<div class="a" style="left:455.70px;top:157.70px;width:43.30px;height:7.80px;background:#eee3f5;border-radius:2px;"></div>
<div class="t" style="left:457.90px;top:157.04px;height:9.12px;line-height:9.12px;font-size:7.6px;color:#333;transform:scaleX(.89);transform-origin:0 50%;">rectangle1</div>
<div class="t" style="left:493.50px;top:158.60px;height:6.00px;line-height:6.00px;font-size:5px;color:#888;">▾</div>
<div class="t" style="left:501.40px;top:156.94px;height:9.12px;line-height:9.12px;font-size:7.6px;color:#fff;transform:scaleX(.89);transform-origin:0 50%;">width</div>
<div class="a" style="left:521.00px;top:156.90px;width:4.50px;height:4.50px;background:#2c9fde;border-radius:1px;"></div>
<div class="a" style="left:524.60px;top:155.20px;width:144.60px;height:17.60px;background:#2c9fde;border-radius:2px;"></div>
<div class="t" style="left:530.00px;top:157.64px;height:9.12px;line-height:9.12px;font-size:7.6px;color:#fff;transform:scaleX(.89);transform-origin:0 50%;">Convert to int</div>
<div class="a" style="left:582.50px;top:161.40px;width:3.00px;height:4.00px;background:#7b1fa2;border-radius:1px;"></div>
<div class="a" style="left:585.00px;top:158.90px;width:30.00px;height:12.30px;background:#7b1fa2;border-radius:2px;"></div>
<div class="a" style="left:587.50px;top:160.40px;width:25.00px;height:9.30px;background:#caa1de;border-radius:2px;"></div>
<div class="t" style="left:589.70px;top:160.49px;height:9.12px;line-height:9.12px;font-size:7.6px;color:#333;transform:scaleX(.89);transform-origin:0 50%;">ch1</div>
<div class="t" style="left:607.00px;top:162.05px;height:6.00px;line-height:6.00px;font-size:5px;color:#888;">▾</div>
<div class="a" style="left:618.00px;top:160.20px;width:15.80px;height:8.00px;background:#c4e3f7;border-radius:2px;"></div>
<div class="t" style="left:620.20px;top:159.64px;height:9.12px;line-height:9.12px;font-size:7.6px;color:#222;font-weight:bold;transform:scaleX(.95);transform-origin:0 50%;">÷</div>
<div class="t" style="left:628.30px;top:161.20px;height:6.00px;line-height:6.00px;font-size:5px;color:#888;">▾</div>
<div class="a" style="left:641.00px;top:160.80px;width:21.00px;height:7.80px;background:#e0f0fa;border-radius:2px;border:1px solid #bcd5ef;"></div>
<div class="t" style="left:451.50px;width:400px;text-align:center;top:160.14px;height:9.12px;line-height:9.12px;font-size:7.6px;color:#2a2a2a;transform:scaleX(.89);transform-origin:50% 50%;">20.48</div>
<div class="a" style="left:440.00px;top:175.20px;width:56.00px;height:17.40px;background:#7b1fa2;border-radius:0 0 0 2pxpx;"></div>
<div class="a" style="left:446.50px;top:192.20px;width:5.00px;height:2.20px;background:#7b1fa2;border-radius:0 0 2px 2pxpx;"></div>
<div class="t" style="left:443.50px;top:177.84px;height:9.12px;line-height:9.12px;font-size:7.6px;color:#fff;transform:scaleX(.89);transform-origin:0 50%;">set</div>
<div class="a" style="left:455.00px;top:177.90px;width:22.00px;height:8.80px;background:#caa1de;border-radius:2px;"></div>
<div class="t" style="left:457.20px;top:177.74px;height:9.12px;line-height:9.12px;font-size:7.6px;color:#333;transform:scaleX(.89);transform-origin:0 50%;">ch2</div>
<div class="t" style="left:471.50px;top:179.30px;height:6.00px;line-height:6.00px;font-size:5px;color:#888;">▾</div>
<div class="t" style="left:480.00px;top:177.84px;height:9.12px;line-height:9.12px;font-size:7.6px;color:#fff;transform:scaleX(.89);transform-origin:0 50%;">to</div>
<div class="a" style="left:490.30px;top:179.20px;width:4.50px;height:4.50px;background:#2ac4a9;border-radius:1px;"></div>
<div class="a" style="left:494.00px;top:175.20px;width:161.00px;height:17.40px;background:#2ac4a9;border-radius:0 2px 2px 0px;"></div>
<div class="a" style="left:496.50px;top:180.00px;width:38.50px;height:8.90px;background:#b2ebdf;border-radius:2px;"></div>
<div class="t" style="left:498.70px;top:179.89px;height:9.12px;line-height:9.12px;font-size:7.6px;color:#333;transform:scaleX(.89);transform-origin:0 50%;">angle8_2</div>
<div class="t" style="left:529.50px;top:181.45px;height:6.00px;line-height:6.00px;font-size:5px;color:#888;">▾</div>
<div class="t" style="left:537.00px;top:179.74px;height:9.12px;line-height:9.12px;font-size:7.6px;color:#fff;transform:scaleX(.89);transform-origin:0 50%;">Get ADC 12bit value</div>
<div class="t" style="left:603.00px;top:179.74px;height:9.12px;line-height:9.12px;font-size:7.6px;color:#0a231d;font-weight:bold;transform:scaleX(.95);transform-origin:0 50%;">channel</div>
<div class="a" style="left:637.40px;top:178.00px;width:12.60px;height:12.60px;background:#e8f8f4;border-radius:2px;border:1px solid #a3dfd1;"></div>
<div class="t" style="left:443.70px;width:400px;text-align:center;top:179.74px;height:9.12px;line-height:9.12px;font-size:7.6px;color:#2a2a2a;transform:scaleX(.89);transform-origin:50% 50%;">2</div>
<div class="a" style="left:440.00px;top:192.60px;width:112.50px;height:18.50px;background:#ef6750;border-radius:0 2px 2px 0px;"></div>
<div class="a" style="left:446.50px;top:210.80px;width:5.00px;height:2.20px;background:#ef6750;border-radius:0 0 2px 2pxpx;"></div>
<div class="a" style="left:446.50px;top:192.60px;width:5.00px;height:2.20px;background:#7b1fa2;border-radius:0 0 2px 2pxpx;"></div>
<div class="t" style="left:444.00px;top:197.54px;height:9.12px;line-height:9.12px;font-size:7.6px;color:#fff;transform:scaleX(.89);transform-origin:0 50%;">Label</div>
<div class="a" style="left:462.20px;top:197.50px;width:34.00px;height:8.90px;background:#f8c6b6;border-radius:2px;"></div>
<div class="t" style="left:464.40px;top:197.39px;height:9.12px;line-height:9.12px;font-size:7.6px;color:#333;transform:scaleX(.89);transform-origin:0 50%;">label10</div>
<div class="t" style="left:490.70px;top:198.95px;height:6.00px;line-height:6.00px;font-size:5px;color:#888;">▾</div>
<div class="t" style="left:498.20px;top:197.54px;height:9.12px;line-height:9.12px;font-size:7.6px;color:#fff;transform:scaleX(.89);transform-origin:0 50%;">show</div>
<div class="a" style="left:518.70px;top:198.30px;width:3.00px;height:4.00px;background:#7b1fa2;border-radius:1px;"></div>
<div class="a" style="left:521.20px;top:195.80px;width:27.00px;height:12.60px;background:#7b1fa2;border-radius:2px;"></div>
<div class="a" style="left:523.70px;top:197.30px;width:22.00px;height:9.60px;background:#caa1de;border-radius:2px;"></div>
<div class="t" style="left:525.90px;top:197.54px;height:9.12px;line-height:9.12px;font-size:7.6px;color:#333;transform:scaleX(.89);transform-origin:0 50%;">ch2</div>
<div class="t" style="left:540.20px;top:199.10px;height:6.00px;line-height:6.00px;font-size:5px;color:#888;">▾</div>
<div class="a" style="left:440.00px;top:211.10px;width:233.00px;height:22.30px;background:#d7bbe9;border-radius:0 2px 2px 0px;"></div>
<div class="a" style="left:446.50px;top:211.10px;width:5.00px;height:2.20px;background:#ef6750;border-radius:0 0 2px 2pxpx;"></div>
<div class="t" style="left:443.80px;top:215.14px;height:9.12px;line-height:9.12px;font-size:7.6px;color:#fff;transform:scaleX(.89);transform-origin:0 50%;">Set</div>
<div class="a" style="left:455.70px;top:215.90px;width:43.30px;height:7.80px;background:#eee3f5;border-radius:2px;"></div>
<div class="t" style="left:457.90px;top:215.24px;height:9.12px;line-height:9.12px;font-size:7.6px;color:#333;transform:scaleX(.89);transform-origin:0 50%;">rectangle2</div>
<div class="t" style="left:493.50px;top:216.80px;height:6.00px;line-height:6.00px;font-size:5px;color:#888;">▾</div>
<div class="t" style="left:501.40px;top:215.14px;height:9.12px;line-height:9.12px;font-size:7.6px;color:#fff;transform:scaleX(.89);transform-origin:0 50%;">width</div>
<div class="a" style="left:521.00px;top:215.10px;width:4.50px;height:4.50px;background:#2c9fde;border-radius:1px;"></div>
<div class="a" style="left:524.60px;top:213.40px;width:144.60px;height:17.60px;background:#2c9fde;border-radius:2px;"></div>
<div class="t" style="left:530.00px;top:215.84px;height:9.12px;line-height:9.12px;font-size:7.6px;color:#fff;transform:scaleX(.89);transform-origin:0 50%;">Convert to int</div>
<div class="a" style="left:582.50px;top:219.60px;width:3.00px;height:4.00px;background:#7b1fa2;border-radius:1px;"></div>
<div class="a" style="left:585.00px;top:217.10px;width:30.00px;height:12.30px;background:#7b1fa2;border-radius:2px;"></div>
<div class="a" style="left:587.50px;top:218.60px;width:25.00px;height:9.30px;background:#caa1de;border-radius:2px;"></div>
<div class="t" style="left:589.70px;top:218.69px;height:9.12px;line-height:9.12px;font-size:7.6px;color:#333;transform:scaleX(.89);transform-origin:0 50%;">ch2</div>
<div class="t" style="left:607.00px;top:220.25px;height:6.00px;line-height:6.00px;font-size:5px;color:#888;">▾</div>
<div class="a" style="left:618.00px;top:218.40px;width:15.80px;height:8.00px;background:#c4e3f7;border-radius:2px;"></div>
<div class="t" style="left:620.20px;top:217.84px;height:9.12px;line-height:9.12px;font-size:7.6px;color:#222;font-weight:bold;transform:scaleX(.95);transform-origin:0 50%;">÷</div>
<div class="t" style="left:628.30px;top:219.40px;height:6.00px;line-height:6.00px;font-size:5px;color:#888;">▾</div>
<div class="a" style="left:641.00px;top:219.00px;width:21.00px;height:7.80px;background:#e0f0fa;border-radius:2px;border:1px solid #bcd5ef;"></div>
<div class="t" style="left:451.50px;width:400px;text-align:center;top:218.34px;height:9.12px;line-height:9.12px;font-size:7.6px;color:#2a2a2a;transform:scaleX(.89);transform-origin:50% 50%;">20.48</div>
<div class="a" style="left:440.00px;top:233.40px;width:56.00px;height:17.40px;background:#7b1fa2;border-radius:0 0 0 2pxpx;"></div>
<div class="a" style="left:446.50px;top:250.40px;width:5.00px;height:2.20px;background:#7b1fa2;border-radius:0 0 2px 2pxpx;"></div>
<div class="t" style="left:443.50px;top:236.04px;height:9.12px;line-height:9.12px;font-size:7.6px;color:#fff;transform:scaleX(.89);transform-origin:0 50%;">set</div>
<div class="a" style="left:455.00px;top:236.10px;width:22.00px;height:8.80px;background:#caa1de;border-radius:2px;"></div>
<div class="t" style="left:457.20px;top:235.94px;height:9.12px;line-height:9.12px;font-size:7.6px;color:#333;transform:scaleX(.89);transform-origin:0 50%;">ch3</div>
<div class="t" style="left:471.50px;top:237.50px;height:6.00px;line-height:6.00px;font-size:5px;color:#888;">▾</div>
<div class="t" style="left:480.00px;top:236.04px;height:9.12px;line-height:9.12px;font-size:7.6px;color:#fff;transform:scaleX(.89);transform-origin:0 50%;">to</div>
<div class="a" style="left:490.30px;top:237.40px;width:4.50px;height:4.50px;background:#2ac4a9;border-radius:1px;"></div>
<div class="a" style="left:494.00px;top:233.40px;width:161.00px;height:17.40px;background:#2ac4a9;border-radius:0 2px 2px 0px;"></div>
<div class="a" style="left:496.50px;top:238.20px;width:38.50px;height:8.90px;background:#b2ebdf;border-radius:2px;"></div>
<div class="t" style="left:498.70px;top:238.09px;height:9.12px;line-height:9.12px;font-size:7.6px;color:#333;transform:scaleX(.89);transform-origin:0 50%;">angle8_2</div>
<div class="t" style="left:529.50px;top:239.65px;height:6.00px;line-height:6.00px;font-size:5px;color:#888;">▾</div>
<div class="t" style="left:537.00px;top:237.94px;height:9.12px;line-height:9.12px;font-size:7.6px;color:#fff;transform:scaleX(.89);transform-origin:0 50%;">Get ADC 12bit value</div>
<div class="t" style="left:603.00px;top:237.94px;height:9.12px;line-height:9.12px;font-size:7.6px;color:#0a231d;font-weight:bold;transform:scaleX(.95);transform-origin:0 50%;">channel</div>
<div class="a" style="left:637.40px;top:236.20px;width:12.60px;height:12.60px;background:#e8f8f4;border-radius:2px;border:1px solid #a3dfd1;"></div>
<div class="t" style="left:443.70px;width:400px;text-align:center;top:237.94px;height:9.12px;line-height:9.12px;font-size:7.6px;color:#2a2a2a;transform:scaleX(.89);transform-origin:50% 50%;">3</div>
<div class="a" style="left:440.00px;top:250.80px;width:112.50px;height:18.50px;background:#ef6750;border-radius:0 2px 2px 0px;"></div>
<div class="a" style="left:446.50px;top:269.00px;width:5.00px;height:2.20px;background:#ef6750;border-radius:0 0 2px 2pxpx;"></div>
<div class="a" style="left:446.50px;top:250.80px;width:5.00px;height:2.20px;background:#7b1fa2;border-radius:0 0 2px 2pxpx;"></div>
<div class="t" style="left:444.00px;top:255.74px;height:9.12px;line-height:9.12px;font-size:7.6px;color:#fff;transform:scaleX(.89);transform-origin:0 50%;">Label</div>
<div class="a" style="left:462.20px;top:255.70px;width:34.00px;height:8.90px;background:#f8c6b6;border-radius:2px;"></div>
<div class="t" style="left:464.40px;top:255.59px;height:9.12px;line-height:9.12px;font-size:7.6px;color:#333;transform:scaleX(.89);transform-origin:0 50%;">label11</div>
<div class="t" style="left:490.70px;top:257.15px;height:6.00px;line-height:6.00px;font-size:5px;color:#888;">▾</div>
<div class="t" style="left:498.20px;top:255.74px;height:9.12px;line-height:9.12px;font-size:7.6px;color:#fff;transform:scaleX(.89);transform-origin:0 50%;">show</div>
<div class="a" style="left:518.70px;top:256.50px;width:3.00px;height:4.00px;background:#7b1fa2;border-radius:1px;"></div>
<div class="a" style="left:521.20px;top:254.00px;width:27.00px;height:12.60px;background:#7b1fa2;border-radius:2px;"></div>
<div class="a" style="left:523.70px;top:255.50px;width:22.00px;height:9.60px;background:#caa1de;border-radius:2px;"></div>
<div class="t" style="left:525.90px;top:255.74px;height:9.12px;line-height:9.12px;font-size:7.6px;color:#333;transform:scaleX(.89);transform-origin:0 50%;">ch3</div>
<div class="t" style="left:540.20px;top:257.30px;height:6.00px;line-height:6.00px;font-size:5px;color:#888;">▾</div>
<div class="a" style="left:440.00px;top:269.30px;width:233.00px;height:22.30px;background:#d7bbe9;border-radius:0 2px 2px 0px;"></div>
<div class="a" style="left:446.50px;top:269.30px;width:5.00px;height:2.20px;background:#ef6750;border-radius:0 0 2px 2pxpx;"></div>
<div class="t" style="left:443.80px;top:273.34px;height:9.12px;line-height:9.12px;font-size:7.6px;color:#fff;transform:scaleX(.89);transform-origin:0 50%;">Set</div>
<div class="a" style="left:455.70px;top:274.10px;width:43.30px;height:7.80px;background:#eee3f5;border-radius:2px;"></div>
<div class="t" style="left:457.90px;top:273.44px;height:9.12px;line-height:9.12px;font-size:7.6px;color:#333;transform:scaleX(.89);transform-origin:0 50%;">rectangle3</div>
<div class="t" style="left:493.50px;top:275.00px;height:6.00px;line-height:6.00px;font-size:5px;color:#888;">▾</div>
<div class="t" style="left:501.40px;top:273.34px;height:9.12px;line-height:9.12px;font-size:7.6px;color:#fff;transform:scaleX(.89);transform-origin:0 50%;">width</div>
<div class="a" style="left:521.00px;top:273.30px;width:4.50px;height:4.50px;background:#2c9fde;border-radius:1px;"></div>
<div class="a" style="left:524.60px;top:271.60px;width:144.60px;height:17.60px;background:#2c9fde;border-radius:2px;"></div>
<div class="t" style="left:530.00px;top:274.04px;height:9.12px;line-height:9.12px;font-size:7.6px;color:#fff;transform:scaleX(.89);transform-origin:0 50%;">Convert to int</div>
<div class="a" style="left:582.50px;top:277.80px;width:3.00px;height:4.00px;background:#7b1fa2;border-radius:1px;"></div>
<div class="a" style="left:585.00px;top:275.30px;width:30.00px;height:12.30px;background:#7b1fa2;border-radius:2px;"></div>
<div class="a" style="left:587.50px;top:276.80px;width:25.00px;height:9.30px;background:#caa1de;border-radius:2px;"></div>
<div class="t" style="left:589.70px;top:276.89px;height:9.12px;line-height:9.12px;font-size:7.6px;color:#333;transform:scaleX(.89);transform-origin:0 50%;">ch3</div>
<div class="t" style="left:607.00px;top:278.45px;height:6.00px;line-height:6.00px;font-size:5px;color:#888;">▾</div>
<div class="a" style="left:618.00px;top:276.60px;width:15.80px;height:8.00px;background:#c4e3f7;border-radius:2px;"></div>
<div class="t" style="left:620.20px;top:276.04px;height:9.12px;line-height:9.12px;font-size:7.6px;color:#222;font-weight:bold;transform:scaleX(.95);transform-origin:0 50%;">÷</div>
<div class="t" style="left:628.30px;top:277.60px;height:6.00px;line-height:6.00px;font-size:5px;color:#888;">▾</div>
<div class="a" style="left:641.00px;top:277.20px;width:21.00px;height:7.80px;background:#e0f0fa;border-radius:2px;border:1px solid #bcd5ef;"></div>
<div class="t" style="left:451.50px;width:400px;text-align:center;top:276.54px;height:9.12px;line-height:9.12px;font-size:7.6px;color:#2a2a2a;transform:scaleX(.89);transform-origin:50% 50%;">20.48</div>
<div class="a" style="left:440.00px;top:291.60px;width:56.00px;height:17.40px;background:#7b1fa2;border-radius:0 0 0 2pxpx;"></div>
<div class="a" style="left:446.50px;top:308.60px;width:5.00px;height:2.20px;background:#7b1fa2;border-radius:0 0 2px 2pxpx;"></div>
<div class="t" style="left:443.50px;top:294.24px;height:9.12px;line-height:9.12px;font-size:7.6px;color:#fff;transform:scaleX(.89);transform-origin:0 50%;">set</div>
<div class="a" style="left:455.00px;top:294.30px;width:22.00px;height:8.80px;background:#caa1de;border-radius:2px;"></div>
<div class="t" style="left:457.20px;top:294.14px;height:9.12px;line-height:9.12px;font-size:7.6px;color:#333;transform:scaleX(.89);transform-origin:0 50%;">ch4</div>
<div class="t" style="left:471.50px;top:295.70px;height:6.00px;line-height:6.00px;font-size:5px;color:#888;">▾</div>
<div class="t" style="left:480.00px;top:294.24px;height:9.12px;line-height:9.12px;font-size:7.6px;color:#fff;transform:scaleX(.89);transform-origin:0 50%;">to</div>
<div class="a" style="left:490.30px;top:295.60px;width:4.50px;height:4.50px;background:#2ac4a9;border-radius:1px;"></div>
<div class="a" style="left:494.00px;top:291.60px;width:161.00px;height:17.40px;background:#2ac4a9;border-radius:0 2px 2px 0px;"></div>
<div class="a" style="left:496.50px;top:296.40px;width:38.50px;height:8.90px;background:#b2ebdf;border-radius:2px;"></div>
<div class="t" style="left:498.70px;top:296.29px;height:9.12px;line-height:9.12px;font-size:7.6px;color:#333;transform:scaleX(.89);transform-origin:0 50%;">angle8_2</div>
<div class="t" style="left:529.50px;top:297.85px;height:6.00px;line-height:6.00px;font-size:5px;color:#888;">▾</div>
<div class="t" style="left:537.00px;top:296.14px;height:9.12px;line-height:9.12px;font-size:7.6px;color:#fff;transform:scaleX(.89);transform-origin:0 50%;">Get ADC 12bit value</div>
<div class="t" style="left:603.00px;top:296.14px;height:9.12px;line-height:9.12px;font-size:7.6px;color:#0a231d;font-weight:bold;transform:scaleX(.95);transform-origin:0 50%;">channel</div>
<div class="a" style="left:637.40px;top:294.40px;width:12.60px;height:12.60px;background:#e8f8f4;border-radius:2px;border:1px solid #a3dfd1;"></div>
<div class="t" style="left:443.70px;width:400px;text-align:center;top:296.14px;height:9.12px;line-height:9.12px;font-size:7.6px;color:#2a2a2a;transform:scaleX(.89);transform-origin:50% 50%;">4</div>
<div class="a" style="left:440.00px;top:309.00px;width:112.50px;height:18.50px;background:#ef6750;border-radius:0 2px 2px 0px;"></div>
<div class="a" style="left:446.50px;top:327.20px;width:5.00px;height:2.20px;background:#ef6750;border-radius:0 0 2px 2pxpx;"></div>
<div class="a" style="left:446.50px;top:309.00px;width:5.00px;height:2.20px;background:#7b1fa2;border-radius:0 0 2px 2pxpx;"></div>
<div class="t" style="left:444.00px;top:313.94px;height:9.12px;line-height:9.12px;font-size:7.6px;color:#fff;transform:scaleX(.89);transform-origin:0 50%;">Label</div>
<div class="a" style="left:462.20px;top:313.90px;width:34.00px;height:8.90px;background:#f8c6b6;border-radius:2px;"></div>
<div class="t" style="left:464.40px;top:313.79px;height:9.12px;line-height:9.12px;font-size:7.6px;color:#333;transform:scaleX(.89);transform-origin:0 50%;">label12</div>
<div class="t" style="left:490.70px;top:315.35px;height:6.00px;line-height:6.00px;font-size:5px;color:#888;">▾</div>
<div class="t" style="left:498.20px;top:313.94px;height:9.12px;line-height:9.12px;font-size:7.6px;color:#fff;transform:scaleX(.89);transform-origin:0 50%;">show</div>
<div class="a" style="left:518.70px;top:314.70px;width:3.00px;height:4.00px;background:#7b1fa2;border-radius:1px;"></div>
<div class="a" style="left:521.20px;top:312.20px;width:27.00px;height:12.60px;background:#7b1fa2;border-radius:2px;"></div>
<div class="a" style="left:523.70px;top:313.70px;width:22.00px;height:9.60px;background:#caa1de;border-radius:2px;"></div>
<div class="t" style="left:525.90px;top:313.94px;height:9.12px;line-height:9.12px;font-size:7.6px;color:#333;transform:scaleX(.89);transform-origin:0 50%;">ch4</div>
<div class="t" style="left:540.20px;top:315.50px;height:6.00px;line-height:6.00px;font-size:5px;color:#888;">▾</div>
<div class="a" style="left:440.00px;top:327.50px;width:233.00px;height:22.30px;background:#d7bbe9;border-radius:0 2px 2px 0px;"></div>
<div class="a" style="left:446.50px;top:327.50px;width:5.00px;height:2.20px;background:#ef6750;border-radius:0 0 2px 2pxpx;"></div>
<div class="t" style="left:443.80px;top:331.54px;height:9.12px;line-height:9.12px;font-size:7.6px;color:#fff;transform:scaleX(.89);transform-origin:0 50%;">Set</div>
<div class="a" style="left:455.70px;top:332.30px;width:43.30px;height:7.80px;background:#eee3f5;border-radius:2px;"></div>
<div class="t" style="left:457.90px;top:331.64px;height:9.12px;line-height:9.12px;font-size:7.6px;color:#333;transform:scaleX(.89);transform-origin:0 50%;">rectangle4</div>
<div class="t" style="left:493.50px;top:333.20px;height:6.00px;line-height:6.00px;font-size:5px;color:#888;">▾</div>
<div class="t" style="left:501.40px;top:331.54px;height:9.12px;line-height:9.12px;font-size:7.6px;color:#fff;transform:scaleX(.89);transform-origin:0 50%;">width</div>
<div class="a" style="left:521.00px;top:331.50px;width:4.50px;height:4.50px;background:#2c9fde;border-radius:1px;"></div>
<div class="a" style="left:524.60px;top:329.80px;width:144.60px;height:17.60px;background:#2c9fde;border-radius:2px;"></div>
<div class="t" style="left:530.00px;top:332.24px;height:9.12px;line-height:9.12px;font-size:7.6px;color:#fff;transform:scaleX(.89);transform-origin:0 50%;">Convert to int</div>
<div class="a" style="left:582.50px;top:336.00px;width:3.00px;height:4.00px;background:#7b1fa2;border-radius:1px;"></div>
<div class="a" style="left:585.00px;top:333.50px;width:30.00px;height:12.30px;background:#7b1fa2;border-radius:2px;"></div>
<div class="a" style="left:587.50px;top:335.00px;width:25.00px;height:9.30px;background:#caa1de;border-radius:2px;"></div>
<div class="t" style="left:589.70px;top:335.09px;height:9.12px;line-height:9.12px;font-size:7.6px;color:#333;transform:scaleX(.89);transform-origin:0 50%;">ch4</div>
<div class="t" style="left:607.00px;top:336.65px;height:6.00px;line-height:6.00px;font-size:5px;color:#888;">▾</div>
<div class="a" style="left:618.00px;top:334.80px;width:15.80px;height:8.00px;background:#c4e3f7;border-radius:2px;"></div>
<div class="t" style="left:620.20px;top:334.24px;height:9.12px;line-height:9.12px;font-size:7.6px;color:#222;font-weight:bold;transform:scaleX(.95);transform-origin:0 50%;">÷</div>
<div class="t" style="left:628.30px;top:335.80px;height:6.00px;line-height:6.00px;font-size:5px;color:#888;">▾</div>
<div class="a" style="left:641.00px;top:335.40px;width:21.00px;height:7.80px;background:#e0f0fa;border-radius:2px;border:1px solid #bcd5ef;"></div>
<div class="t" style="left:451.50px;width:400px;text-align:center;top:334.74px;height:9.12px;line-height:9.12px;font-size:7.6px;color:#2a2a2a;transform:scaleX(.89);transform-origin:50% 50%;">20.48</div>
<div class="a" style="left:440.00px;top:349.80px;width:56.00px;height:17.40px;background:#7b1fa2;border-radius:0 0 0 2pxpx;"></div>
<div class="a" style="left:446.50px;top:366.80px;width:5.00px;height:2.20px;background:#7b1fa2;border-radius:0 0 2px 2pxpx;"></div>
<div class="t" style="left:443.50px;top:352.44px;height:9.12px;line-height:9.12px;font-size:7.6px;color:#fff;transform:scaleX(.89);transform-origin:0 50%;">set</div>
<div class="a" style="left:455.00px;top:352.50px;width:22.00px;height:8.80px;background:#caa1de;border-radius:2px;"></div>
<div class="t" style="left:457.20px;top:352.34px;height:9.12px;line-height:9.12px;font-size:7.6px;color:#333;transform:scaleX(.89);transform-origin:0 50%;">ch5</div>
<div class="t" style="left:471.50px;top:353.90px;height:6.00px;line-height:6.00px;font-size:5px;color:#888;">▾</div>
<div class="t" style="left:480.00px;top:352.44px;height:9.12px;line-height:9.12px;font-size:7.6px;color:#fff;transform:scaleX(.89);transform-origin:0 50%;">to</div>
<div class="a" style="left:490.30px;top:353.80px;width:4.50px;height:4.50px;background:#2ac4a9;border-radius:1px;"></div>
<div class="a" style="left:494.00px;top:349.80px;width:161.00px;height:17.40px;background:#2ac4a9;border-radius:0 2px 2px 0px;"></div>
<div class="a" style="left:496.50px;top:354.60px;width:38.50px;height:8.90px;background:#b2ebdf;border-radius:2px;"></div>
<div class="t" style="left:498.70px;top:354.49px;height:9.12px;line-height:9.12px;font-size:7.6px;color:#333;transform:scaleX(.89);transform-origin:0 50%;">angle8_2</div>
<div class="t" style="left:529.50px;top:356.05px;height:6.00px;line-height:6.00px;font-size:5px;color:#888;">▾</div>
<div class="t" style="left:537.00px;top:354.34px;height:9.12px;line-height:9.12px;font-size:7.6px;color:#fff;transform:scaleX(.89);transform-origin:0 50%;">Get ADC 12bit value</div>
<div class="t" style="left:603.00px;top:354.34px;height:9.12px;line-height:9.12px;font-size:7.6px;color:#0a231d;font-weight:bold;transform:scaleX(.95);transform-origin:0 50%;">channel</div>
<div class="a" style="left:637.40px;top:352.60px;width:12.60px;height:12.60px;background:#e8f8f4;border-radius:2px;border:1px solid #a3dfd1;"></div>
<div class="t" style="left:443.70px;width:400px;text-align:center;top:354.34px;height:9.12px;line-height:9.12px;font-size:7.6px;color:#2a2a2a;transform:scaleX(.89);transform-origin:50% 50%;">5</div>
<div class="a" style="left:440.00px;top:367.20px;width:112.50px;height:18.50px;background:#ef6750;border-radius:0 2px 2px 0px;"></div>
<div class="a" style="left:446.50px;top:385.40px;width:5.00px;height:2.20px;background:#ef6750;border-radius:0 0 2px 2pxpx;"></div>
<div class="a" style="left:446.50px;top:367.20px;width:5.00px;height:2.20px;background:#7b1fa2;border-radius:0 0 2px 2pxpx;"></div>
<div class="t" style="left:444.00px;top:372.14px;height:9.12px;line-height:9.12px;font-size:7.6px;color:#fff;transform:scaleX(.89);transform-origin:0 50%;">Label</div>
<div class="a" style="left:462.20px;top:372.10px;width:34.00px;height:8.90px;background:#f8c6b6;border-radius:2px;"></div>
<div class="t" style="left:464.40px;top:371.99px;height:9.12px;line-height:9.12px;font-size:7.6px;color:#333;transform:scaleX(.89);transform-origin:0 50%;">label13</div>
<div class="t" style="left:490.70px;top:373.55px;height:6.00px;line-height:6.00px;font-size:5px;color:#888;">▾</div>
<div class="t" style="left:498.20px;top:372.14px;height:9.12px;line-height:9.12px;font-size:7.6px;color:#fff;transform:scaleX(.89);transform-origin:0 50%;">show</div>
<div class="a" style="left:518.70px;top:372.90px;width:3.00px;height:4.00px;background:#7b1fa2;border-radius:1px;"></div>
<div class="a" style="left:521.20px;top:370.40px;width:27.00px;height:12.60px;background:#7b1fa2;border-radius:2px;"></div>
<div class="a" style="left:523.70px;top:371.90px;width:22.00px;height:9.60px;background:#caa1de;border-radius:2px;"></div>
<div class="t" style="left:525.90px;top:372.14px;height:9.12px;line-height:9.12px;font-size:7.6px;color:#333;transform:scaleX(.89);transform-origin:0 50%;">ch5</div>
<div class="t" style="left:540.20px;top:373.70px;height:6.00px;line-height:6.00px;font-size:5px;color:#888;">▾</div>
<div class="a" style="left:440.00px;top:385.70px;width:233.00px;height:22.30px;background:#d7bbe9;border-radius:0 2px 2px 0px;"></div>
<div class="a" style="left:446.50px;top:385.70px;width:5.00px;height:2.20px;background:#ef6750;border-radius:0 0 2px 2pxpx;"></div>
<div class="t" style="left:443.80px;top:389.74px;height:9.12px;line-height:9.12px;font-size:7.6px;color:#fff;transform:scaleX(.89);transform-origin:0 50%;">Set</div>
<div class="a" style="left:455.70px;top:390.50px;width:43.30px;height:7.80px;background:#eee3f5;border-radius:2px;"></div>
<div class="t" style="left:457.90px;top:389.84px;height:9.12px;line-height:9.12px;font-size:7.6px;color:#333;transform:scaleX(.89);transform-origin:0 50%;">rectangle5</div>
<div class="t" style="left:493.50px;top:391.40px;height:6.00px;line-height:6.00px;font-size:5px;color:#888;">▾</div>
<div class="t" style="left:501.40px;top:389.74px;height:9.12px;line-height:9.12px;font-size:7.6px;color:#fff;transform:scaleX(.89);transform-origin:0 50%;">width</div>
<div class="a" style="left:521.00px;top:389.70px;width:4.50px;height:4.50px;background:#2c9fde;border-radius:1px;"></div>
<div class="a" style="left:524.60px;top:388.00px;width:144.60px;height:17.60px;background:#2c9fde;border-radius:2px;"></div>
<div class="t" style="left:530.00px;top:390.44px;height:9.12px;line-height:9.12px;font-size:7.6px;color:#fff;transform:scaleX(.89);transform-origin:0 50%;">Convert to int</div>
<div class="a" style="left:582.50px;top:394.20px;width:3.00px;height:4.00px;background:#7b1fa2;border-radius:1px;"></div>
<div class="a" style="left:585.00px;top:391.70px;width:30.00px;height:12.30px;background:#7b1fa2;border-radius:2px;"></div>
<div class="a" style="left:587.50px;top:393.20px;width:25.00px;height:9.30px;background:#caa1de;border-radius:2px;"></div>
<div class="t" style="left:589.70px;top:393.29px;height:9.12px;line-height:9.12px;font-size:7.6px;color:#333;transform:scaleX(.89);transform-origin:0 50%;">ch5</div>
<div class="t" style="left:607.00px;top:394.85px;height:6.00px;line-height:6.00px;font-size:5px;color:#888;">▾</div>
<div class="a" style="left:618.00px;top:393.00px;width:15.80px;height:8.00px;background:#c4e3f7;border-radius:2px;"></div>
<div class="t" style="left:620.20px;top:392.44px;height:9.12px;line-height:9.12px;font-size:7.6px;color:#222;font-weight:bold;transform:scaleX(.95);transform-origin:0 50%;">÷</div>
<div class="t" style="left:628.30px;top:394.00px;height:6.00px;line-height:6.00px;font-size:5px;color:#888;">▾</div>
<div class="a" style="left:641.00px;top:393.60px;width:21.00px;height:7.80px;background:#e0f0fa;border-radius:2px;border:1px solid #bcd5ef;"></div>
<div class="t" style="left:451.50px;width:400px;text-align:center;top:392.94px;height:9.12px;line-height:9.12px;font-size:7.6px;color:#2a2a2a;transform:scaleX(.89);transform-origin:50% 50%;">20.48</div>
<div class="a" style="left:440.00px;top:408.00px;width:56.00px;height:17.40px;background:#7b1fa2;border-radius:0 0 0 2pxpx;"></div>
<div class="a" style="left:446.50px;top:425.00px;width:5.00px;height:2.20px;background:#7b1fa2;border-radius:0 0 2px 2pxpx;"></div>
<div class="t" style="left:443.50px;top:410.64px;height:9.12px;line-height:9.12px;font-size:7.6px;color:#fff;transform:scaleX(.89);transform-origin:0 50%;">set</div>
<div class="a" style="left:455.00px;top:410.70px;width:22.00px;height:8.80px;background:#caa1de;border-radius:2px;"></div>
<div class="t" style="left:457.20px;top:410.54px;height:9.12px;line-height:9.12px;font-size:7.6px;color:#333;transform:scaleX(.89);transform-origin:0 50%;">ch6</div>
<div class="t" style="left:471.50px;top:412.10px;height:6.00px;line-height:6.00px;font-size:5px;color:#888;">▾</div>
<div class="t" style="left:480.00px;top:410.64px;height:9.12px;line-height:9.12px;font-size:7.6px;color:#fff;transform:scaleX(.89);transform-origin:0 50%;">to</div>
<div class="a" style="left:490.30px;top:412.00px;width:4.50px;height:4.50px;background:#2ac4a9;border-radius:1px;"></div>
<div class="a" style="left:494.00px;top:408.00px;width:161.00px;height:17.40px;background:#2ac4a9;border-radius:0 2px 2px 0px;"></div>
<div class="a" style="left:496.50px;top:412.80px;width:38.50px;height:8.90px;background:#b2ebdf;border-radius:2px;"></div>
<div class="t" style="left:498.70px;top:412.69px;height:9.12px;line-height:9.12px;font-size:7.6px;color:#333;transform:scaleX(.89);transform-origin:0 50%;">angle8_2</div>
<div class="t" style="left:529.50px;top:414.25px;height:6.00px;line-height:6.00px;font-size:5px;color:#888;">▾</div>
<div class="t" style="left:537.00px;top:412.54px;height:9.12px;line-height:9.12px;font-size:7.6px;color:#fff;transform:scaleX(.89);transform-origin:0 50%;">Get ADC 12bit value</div>
<div class="t" style="left:603.00px;top:412.54px;height:9.12px;line-height:9.12px;font-size:7.6px;color:#0a231d;font-weight:bold;transform:scaleX(.95);transform-origin:0 50%;">channel</div>
<div class="a" style="left:637.40px;top:410.80px;width:12.60px;height:12.60px;background:#e8f8f4;border-radius:2px;border:1px solid #a3dfd1;"></div>
<div class="t" style="left:443.70px;width:400px;text-align:center;top:412.54px;height:9.12px;line-height:9.12px;font-size:7.6px;color:#2a2a2a;transform:scaleX(.89);transform-origin:50% 50%;">6</div>
<div class="a" style="left:440.00px;top:425.40px;width:112.50px;height:18.50px;background:#ef6750;border-radius:0 2px 2px 0px;"></div>
<div class="a" style="left:446.50px;top:443.60px;width:5.00px;height:2.20px;background:#ef6750;border-radius:0 0 2px 2pxpx;"></div>
<div class="a" style="left:446.50px;top:425.40px;width:5.00px;height:2.20px;background:#7b1fa2;border-radius:0 0 2px 2pxpx;"></div>
<div class="t" style="left:444.00px;top:430.34px;height:9.12px;line-height:9.12px;font-size:7.6px;color:#fff;transform:scaleX(.89);transform-origin:0 50%;">Label</div>
<div class="a" style="left:462.20px;top:430.30px;width:34.00px;height:8.90px;background:#f8c6b6;border-radius:2px;"></div>
<div class="t" style="left:464.40px;top:430.19px;height:9.12px;line-height:9.12px;font-size:7.6px;color:#333;transform:scaleX(.89);transform-origin:0 50%;">label14</div>
<div class="t" style="left:490.70px;top:431.75px;height:6.00px;line-height:6.00px;font-size:5px;color:#888;">▾</div>
<div class="t" style="left:498.20px;top:430.34px;height:9.12px;line-height:9.12px;font-size:7.6px;color:#fff;transform:scaleX(.89);transform-origin:0 50%;">show</div>
<div class="a" style="left:518.70px;top:431.10px;width:3.00px;height:4.00px;background:#7b1fa2;border-radius:1px;"></div>
<div class="a" style="left:521.20px;top:428.60px;width:27.00px;height:12.60px;background:#7b1fa2;border-radius:2px;"></div>
<div class="a" style="left:523.70px;top:430.10px;width:22.00px;height:9.60px;background:#caa1de;border-radius:2px;"></div>
<div class="t" style="left:525.90px;top:430.34px;height:9.12px;line-height:9.12px;font-size:7.6px;color:#333;transform:scaleX(.89);transform-origin:0 50%;">ch6</div>
<div class="t" style="left:540.20px;top:431.90px;height:6.00px;line-height:6.00px;font-size:5px;color:#888;">▾</div>
<div class="a" style="left:440.00px;top:443.90px;width:233.00px;height:22.30px;background:#d7bbe9;border-radius:0 2px 2px 0px;"></div>
<div class="a" style="left:446.50px;top:443.90px;width:5.00px;height:2.20px;background:#ef6750;border-radius:0 0 2px 2pxpx;"></div>
<div class="t" style="left:443.80px;top:447.94px;height:9.12px;line-height:9.12px;font-size:7.6px;color:#fff;transform:scaleX(.89);transform-origin:0 50%;">Set</div>
<div class="a" style="left:455.70px;top:448.70px;width:43.30px;height:7.80px;background:#eee3f5;border-radius:2px;"></div>
<div class="t" style="left:457.90px;top:448.04px;height:9.12px;line-height:9.12px;font-size:7.6px;color:#333;transform:scaleX(.89);transform-origin:0 50%;">rectangle6</div>
<div class="t" style="left:493.50px;top:449.60px;height:6.00px;line-height:6.00px;font-size:5px;color:#888;">▾</div>
<div class="t" style="left:501.40px;top:447.94px;height:9.12px;line-height:9.12px;font-size:7.6px;color:#fff;transform:scaleX(.89);transform-origin:0 50%;">width</div>
<div class="a" style="left:521.00px;top:447.90px;width:4.50px;height:4.50px;background:#2c9fde;border-radius:1px;"></div>
<div class="a" style="left:524.60px;top:446.20px;width:144.60px;height:17.60px;background:#2c9fde;border-radius:2px;"></div>
<div class="t" style="left:530.00px;top:448.64px;height:9.12px;line-height:9.12px;font-size:7.6px;color:#fff;transform:scaleX(.89);transform-origin:0 50%;">Convert to int</div>
<div class="a" style="left:582.50px;top:452.40px;width:3.00px;height:4.00px;background:#7b1fa2;border-radius:1px;"></div>
<div class="a" style="left:585.00px;top:449.90px;width:30.00px;height:12.30px;background:#7b1fa2;border-radius:2px;"></div>
<div class="a" style="left:587.50px;top:451.40px;width:25.00px;height:9.30px;background:#caa1de;border-radius:2px;"></div>
<div class="t" style="left:589.70px;top:451.49px;height:9.12px;line-height:9.12px;font-size:7.6px;color:#333;transform:scaleX(.89);transform-origin:0 50%;">ch6</div>
<div class="t" style="left:607.00px;top:453.05px;height:6.00px;line-height:6.00px;font-size:5px;color:#888;">▾</div>
<div class="a" style="left:618.00px;top:451.20px;width:15.80px;height:8.00px;background:#c4e3f7;border-radius:2px;"></div>
<div class="t" style="left:620.20px;top:450.64px;height:9.12px;line-height:9.12px;font-size:7.6px;color:#222;font-weight:bold;transform:scaleX(.95);transform-origin:0 50%;">÷</div>
<div class="t" style="left:628.30px;top:452.20px;height:6.00px;line-height:6.00px;font-size:5px;color:#888;">▾</div>
<div class="a" style="left:641.00px;top:451.80px;width:21.00px;height:7.80px;background:#e0f0fa;border-radius:2px;border:1px solid #bcd5ef;"></div>
<div class="t" style="left:451.50px;width:400px;text-align:center;top:451.14px;height:9.12px;line-height:9.12px;font-size:7.6px;color:#2a2a2a;transform:scaleX(.89);transform-origin:50% 50%;">20.48</div>
<div class="a" style="left:440.00px;top:466.20px;width:56.00px;height:17.40px;background:#7b1fa2;border-radius:0 0 0 2pxpx;"></div>
<div class="a" style="left:446.50px;top:483.20px;width:5.00px;height:2.20px;background:#7b1fa2;border-radius:0 0 2px 2pxpx;"></div>
<div class="t" style="left:443.50px;top:468.84px;height:9.12px;line-height:9.12px;font-size:7.6px;color:#fff;transform:scaleX(.89);transform-origin:0 50%;">set</div>
<div class="a" style="left:455.00px;top:468.90px;width:22.00px;height:8.80px;background:#caa1de;border-radius:2px;"></div>
<div class="t" style="left:457.20px;top:468.74px;height:9.12px;line-height:9.12px;font-size:7.6px;color:#333;transform:scaleX(.89);transform-origin:0 50%;">ch7</div>
<div class="t" style="left:471.50px;top:470.30px;height:6.00px;line-height:6.00px;font-size:5px;color:#888;">▾</div>
<div class="t" style="left:480.00px;top:468.84px;height:9.12px;line-height:9.12px;font-size:7.6px;color:#fff;transform:scaleX(.89);transform-origin:0 50%;">to</div>
<div class="a" style="left:490.30px;top:470.20px;width:4.50px;height:4.50px;background:#2ac4a9;border-radius:1px;"></div>
<div class="a" style="left:494.00px;top:466.20px;width:161.00px;height:17.40px;background:#2ac4a9;border-radius:0 2px 2px 0px;"></div>
<div class="a" style="left:496.50px;top:471.00px;width:38.50px;height:8.90px;background:#b2ebdf;border-radius:2px;"></div>
<div class="t" style="left:498.70px;top:470.89px;height:9.12px;line-height:9.12px;font-size:7.6px;color:#333;transform:scaleX(.89);transform-origin:0 50%;">angle8_2</div>
<div class="t" style="left:529.50px;top:472.45px;height:6.00px;line-height:6.00px;font-size:5px;color:#888;">▾</div>
<div class="t" style="left:537.00px;top:470.74px;height:9.12px;line-height:9.12px;font-size:7.6px;color:#fff;transform:scaleX(.89);transform-origin:0 50%;">Get ADC 12bit value</div>
<div class="t" style="left:603.00px;top:470.74px;height:9.12px;line-height:9.12px;font-size:7.6px;color:#0a231d;font-weight:bold;transform:scaleX(.95);transform-origin:0 50%;">channel</div>
<div class="a" style="left:637.40px;top:469.00px;width:12.60px;height:12.60px;background:#e8f8f4;border-radius:2px;border:1px solid #a3dfd1;"></div>
<div class="t" style="left:443.70px;width:400px;text-align:center;top:470.74px;height:9.12px;line-height:9.12px;font-size:7.6px;color:#2a2a2a;transform:scaleX(.89);transform-origin:50% 50%;">7</div>
<div class="a" style="left:440.00px;top:483.60px;width:112.50px;height:18.50px;background:#ef6750;border-radius:0 2px 2px 0px;"></div>
<div class="a" style="left:446.50px;top:501.80px;width:5.00px;height:2.20px;background:#ef6750;border-radius:0 0 2px 2pxpx;"></div>
<div class="a" style="left:446.50px;top:483.60px;width:5.00px;height:2.20px;background:#7b1fa2;border-radius:0 0 2px 2pxpx;"></div>
<div class="t" style="left:444.00px;top:488.54px;height:9.12px;line-height:9.12px;font-size:7.6px;color:#fff;transform:scaleX(.89);transform-origin:0 50%;">Label</div>
<div class="a" style="left:462.20px;top:488.50px;width:34.00px;height:8.90px;background:#f8c6b6;border-radius:2px;"></div>
<div class="t" style="left:464.40px;top:488.39px;height:9.12px;line-height:9.12px;font-size:7.6px;color:#333;transform:scaleX(.89);transform-origin:0 50%;">label15</div>
<div class="t" style="left:490.70px;top:489.95px;height:6.00px;line-height:6.00px;font-size:5px;color:#888;">▾</div>
<div class="t" style="left:498.20px;top:488.54px;height:9.12px;line-height:9.12px;font-size:7.6px;color:#fff;transform:scaleX(.89);transform-origin:0 50%;">show</div>
<div class="a" style="left:518.70px;top:489.30px;width:3.00px;height:4.00px;background:#7b1fa2;border-radius:1px;"></div>
<div class="a" style="left:521.20px;top:486.80px;width:27.00px;height:12.60px;background:#7b1fa2;border-radius:2px;"></div>
<div class="a" style="left:523.70px;top:488.30px;width:22.00px;height:9.60px;background:#caa1de;border-radius:2px;"></div>
<div class="t" style="left:525.90px;top:488.54px;height:9.12px;line-height:9.12px;font-size:7.6px;color:#333;transform:scaleX(.89);transform-origin:0 50%;">ch7</div>
<div class="t" style="left:540.20px;top:490.10px;height:6.00px;line-height:6.00px;font-size:5px;color:#888;">▾</div>
<div class="a" style="left:440.00px;top:502.10px;width:233.00px;height:22.30px;background:#d7bbe9;border-radius:0 2px 2px 0px;"></div>
<div class="a" style="left:446.50px;top:502.10px;width:5.00px;height:2.20px;background:#ef6750;border-radius:0 0 2px 2pxpx;"></div>
<div class="t" style="left:443.80px;top:506.14px;height:9.12px;line-height:9.12px;font-size:7.6px;color:#fff;transform:scaleX(.89);transform-origin:0 50%;">Set</div>
<div class="a" style="left:455.70px;top:506.90px;width:43.30px;height:7.80px;background:#eee3f5;border-radius:2px;"></div>
<div class="t" style="left:457.90px;top:506.24px;height:9.12px;line-height:9.12px;font-size:7.6px;color:#333;transform:scaleX(.89);transform-origin:0 50%;">rectangle7</div>
<div class="t" style="left:493.50px;top:507.80px;height:6.00px;line-height:6.00px;font-size:5px;color:#888;">▾</div>
<div class="t" style="left:501.40px;top:506.14px;height:9.12px;line-height:9.12px;font-size:7.6px;color:#fff;transform:scaleX(.89);transform-origin:0 50%;">width</div>
<div class="a" style="left:521.00px;top:506.10px;width:4.50px;height:4.50px;background:#2c9fde;border-radius:1px;"></div>
<div class="a" style="left:524.60px;top:504.40px;width:144.60px;height:17.60px;background:#2c9fde;border-radius:2px;"></div>
<div class="t" style="left:530.00px;top:506.84px;height:9.12px;line-height:9.12px;font-size:7.6px;color:#fff;transform:scaleX(.89);transform-origin:0 50%;">Convert to int</div>
<div class="a" style="left:582.50px;top:510.60px;width:3.00px;height:4.00px;background:#7b1fa2;border-radius:1px;"></div>
<div class="a" style="left:585.00px;top:508.10px;width:30.00px;height:12.30px;background:#7b1fa2;border-radius:2px;"></div>
<div class="a" style="left:587.50px;top:509.60px;width:25.00px;height:9.30px;background:#caa1de;border-radius:2px;"></div>
<div class="t" style="left:589.70px;top:509.69px;height:9.12px;line-height:9.12px;font-size:7.6px;color:#333;transform:scaleX(.89);transform-origin:0 50%;">ch7</div>
<div class="t" style="left:607.00px;top:511.25px;height:6.00px;line-height:6.00px;font-size:5px;color:#888;">▾</div>
<div class="a" style="left:618.00px;top:509.40px;width:15.80px;height:8.00px;background:#c4e3f7;border-radius:2px;"></div>
<div class="t" style="left:620.20px;top:508.84px;height:9.12px;line-height:9.12px;font-size:7.6px;color:#222;font-weight:bold;transform:scaleX(.95);transform-origin:0 50%;">÷</div>
<div class="t" style="left:628.30px;top:510.40px;height:6.00px;line-height:6.00px;font-size:5px;color:#888;">▾</div>
<div class="a" style="left:641.00px;top:510.00px;width:21.00px;height:7.80px;background:#e0f0fa;border-radius:2px;border:1px solid #bcd5ef;"></div>
<div class="t" style="left:451.50px;width:400px;text-align:center;top:509.34px;height:9.12px;line-height:9.12px;font-size:7.6px;color:#2a2a2a;transform:scaleX(.89);transform-origin:50% 50%;">20.48</div>
<div class="a" style="left:440.00px;top:524.40px;width:54.00px;height:13.60px;background:#7b1fa2;border-radius:0 0 0 2pxpx;"></div>
<div class="a" style="left:446.50px;top:524.40px;width:5.00px;height:2.20px;background:#d7bbe9;border-radius:0 0 2px 2pxpx;"></div>
<div class="a" style="left:446.50px;top:537.80px;width:5.00px;height:2.20px;background:#7b1fa2;border-radius:0 0 2px 2pxpx;"></div>
<div class="t" style="left:443.50px;top:526.84px;height:9.12px;line-height:9.12px;font-size:7.6px;color:#fff;transform:scaleX(.89);transform-origin:0 50%;">set</div>
<div class="a" style="left:455.00px;top:527.00px;width:19.50px;height:8.80px;background:#caa1de;border-radius:2px;"></div>
<div class="t" style="left:457.20px;top:526.84px;height:9.12px;line-height:9.12px;font-size:7.6px;color:#333;transform:scaleX(.89);transform-origin:0 50%;">sw</div>
<div class="t" style="left:469.00px;top:528.40px;height:6.00px;line-height:6.00px;font-size:5px;color:#888;">▾</div>
<div class="t" style="left:477.50px;top:526.84px;height:9.12px;line-height:9.12px;font-size:7.6px;color:#fff;transform:scaleX(.89);transform-origin:0 50%;">to</div>
<div class="a" style="left:488.50px;top:527.40px;width:4.50px;height:4.50px;background:#2ac4a9;border-radius:1px;"></div>
<div class="a" style="left:492.00px;top:524.40px;width:100.00px;height:13.60px;background:#2ac4a9;border-radius:0 2px 2px 0px;"></div>
<div class="a" style="left:494.50px;top:526.80px;width:38.50px;height:8.90px;background:#b2ebdf;border-radius:2px;"></div>
<div class="t" style="left:496.70px;top:526.69px;height:9.12px;line-height:9.12px;font-size:7.6px;color:#333;transform:scaleX(.89);transform-origin:0 50%;">angle8_2</div>
<div class="t" style="left:527.50px;top:528.25px;height:6.00px;line-height:6.00px;font-size:5px;color:#888;">▾</div>
<div class="t" style="left:535.00px;top:526.84px;height:9.12px;line-height:9.12px;font-size:7.6px;color:#fff;transform:scaleX(.89);transform-origin:0 50%;">Get button status</div>
<div class="a" style="left:440.00px;top:538.00px;width:112.00px;height:10.00px;background:#ef6750;"></div>
<div class="a" style="left:446.50px;top:538.00px;width:5.00px;height:2.20px;background:#7b1fa2;border-radius:0 0 2px 2pxpx;"></div>
<div class="a" style="left:674.00px;top:23.80px;width:8.60px;height:136.00px;background:#f8be30;"></div>
<div class="a" style="left:674.00px;top:23.80px;width:96.30px;height:12.50px;background:#f8be30;border-radius:3px 3px 0 0px;"></div>
<div class="t" style="left:677.80px;top:25.44px;height:9.12px;line-height:9.12px;font-size:7.6px;color:#fff;transform:scaleX(.89);transform-origin:0 50%;">Button</div>
<div class="a" style="left:700.70px;top:26.30px;width:15.70px;height:7.50px;background:#fde2a6;border-radius:2px;"></div>
<div class="t" style="left:702.90px;top:25.49px;height:9.12px;line-height:9.12px;font-size:7.6px;color:#333;transform:scaleX(.89);transform-origin:0 50%;">A</div>
<div class="t" style="left:710.90px;top:27.05px;height:6.00px;line-height:6.00px;font-size:5px;color:#888;">▾</div>
<div class="a" style="left:720.80px;top:26.30px;width:46.90px;height:7.50px;background:#fde2a6;border-radius:2px;"></div>
<div class="t" style="left:723.00px;top:25.49px;height:9.12px;line-height:9.12px;font-size:7.6px;color:#333;transform:scaleX(.89);transform-origin:0 50%;">wasPressed</div>
<div class="t" style="left:762.20px;top:27.05px;height:6.00px;line-height:6.00px;font-size:5px;color:#888;">▾</div>
<div class="a" style="left:674.00px;top:153.30px;width:96.00px;height:6.50px;background:#f8be30;border-radius:0 0 2px 0px;"></div>
<div class="a" style="left:682.50px;top:36.30px;width:60.00px;height:17.70px;background:#7b1fa2;border-radius:0 0 0 2pxpx;"></div>
<div class="t" style="left:686.50px;top:38.94px;height:9.12px;line-height:9.12px;font-size:7.6px;color:#fff;transform:scaleX(.89);transform-origin:0 50%;">set</div>
<div class="a" style="left:698.00px;top:39.00px;width:25.00px;height:8.50px;background:#caa1de;border-radius:2px;"></div>
<div class="t" style="left:700.20px;top:38.69px;height:9.12px;line-height:9.12px;font-size:7.6px;color:#333;transform:scaleX(.89);transform-origin:0 50%;">rand</div>
<div class="t" style="left:717.50px;top:40.25px;height:6.00px;line-height:6.00px;font-size:5px;color:#888;">▾</div>
<div class="t" style="left:726.00px;top:38.94px;height:9.12px;line-height:9.12px;font-size:7.6px;color:#fff;transform:scaleX(.89);transform-origin:0 50%;">to</div>
<div class="a" style="left:735.50px;top:40.00px;width:4.50px;height:4.50px;background:#2c9fde;border-radius:1px;"></div>
<div class="a" style="left:739.50px;top:36.30px;width:151.50px;height:17.70px;background:#2c9fde;border-radius:0 2px 2px 0px;"></div>
<div class="t" style="left:744.00px;top:40.84px;height:9.12px;line-height:9.12px;font-size:7.6px;color:#fff;transform:scaleX(.89);transform-origin:0 50%;">random integer from</div>
<div class="a" style="left:817.60px;top:39.00px;width:8.40px;height:12.00px;background:#e0f0fa;border-radius:2px;border:1px solid #bcd5ef;"></div>
<div class="t" style="left:621.80px;width:400px;text-align:center;top:40.44px;height:9.12px;line-height:9.12px;font-size:7.6px;color:#2a2a2a;transform:scaleX(.89);transform-origin:50% 50%;">0</div>
<div class="t" style="left:833.00px;top:40.84px;height:9.12px;line-height:9.12px;font-size:7.6px;color:#fff;transform:scaleX(.89);transform-origin:0 50%;">to</div>
<div class="a" style="left:849.00px;top:39.00px;width:34.00px;height:12.00px;background:#e0f0fa;border-radius:2px;border:1px solid #bcd5ef;"></div>
<div class="t" style="left:666.00px;width:400px;text-align:center;top:40.44px;height:9.12px;line-height:9.12px;font-size:7.6px;color:#2a2a2a;transform:scaleX(.89);transform-origin:50% 50%;"><span style="letter-spacing:-0.3px">16777215</span></div>
<div class="a" style="left:682.50px;top:54.00px;width:56.00px;height:17.20px;background:#7b1fa2;border-radius:0 0 0 2pxpx;"></div>
<div class="t" style="left:686.50px;top:56.64px;height:9.12px;line-height:9.12px;font-size:7.6px;color:#fff;transform:scaleX(.89);transform-origin:0 50%;">set</div>
<div class="a" style="left:698.00px;top:56.70px;width:21.50px;height:8.50px;background:#caa1de;border-radius:2px;"></div>
<div class="t" style="left:700.20px;top:56.39px;height:9.12px;line-height:9.12px;font-size:7.6px;color:#333;transform:scaleX(.89);transform-origin:0 50%;">red</div>
<div class="t" style="left:714.00px;top:57.95px;height:6.00px;line-height:6.00px;font-size:5px;color:#888;">▾</div>
<div class="t" style="left:722.50px;top:56.64px;height:9.12px;line-height:9.12px;font-size:7.6px;color:#fff;transform:scaleX(.89);transform-origin:0 50%;">to</div>
<div class="a" style="left:732.00px;top:58.00px;width:4.50px;height:4.50px;background:#2c9fde;border-radius:1px;"></div>
<div class="a" style="left:735.70px;top:54.00px;width:87.30px;height:17.20px;background:#2c9fde;border-radius:0 2px 2px 0px;"></div>
<div class="a" style="left:740.50px;top:59.20px;width:3.00px;height:4.00px;background:#7b1fa2;border-radius:1px;"></div>
<div class="a" style="left:743.00px;top:56.70px;width:30.80px;height:12.30px;background:#7b1fa2;border-radius:2px;"></div>
<div class="a" style="left:745.50px;top:58.20px;width:25.80px;height:9.30px;background:#caa1de;border-radius:2px;"></div>
<div class="t" style="left:747.70px;top:58.29px;height:9.12px;line-height:9.12px;font-size:7.6px;color:#333;transform:scaleX(.89);transform-origin:0 50%;">rand</div>
<div class="t" style="left:765.80px;top:59.85px;height:6.00px;line-height:6.00px;font-size:5px;color:#888;">▾</div>
<div class="a" style="left:775.70px;top:58.50px;width:21.00px;height:8.20px;background:#c4e3f7;border-radius:2px;"></div>
<div class="t" style="left:777.90px;top:58.04px;height:9.12px;line-height:9.12px;font-size:7.6px;color:#333;transform:scaleX(.89);transform-origin:0 50%;">>></div>
<div class="t" style="left:791.20px;top:59.60px;height:6.00px;line-height:6.00px;font-size:5px;color:#888;">▾</div>
<div class="a" style="left:804.00px;top:57.50px;width:12.70px;height:10.50px;background:#e0f0fa;border-radius:2px;border:1px solid #bcd5ef;"></div>
<div class="t" style="left:610.35px;width:400px;text-align:center;top:58.19px;height:9.12px;line-height:9.12px;font-size:7.6px;color:#2a2a2a;transform:scaleX(.89);transform-origin:50% 50%;">16</div>
<div class="a" style="left:682.50px;top:71.20px;width:63.00px;height:23.80px;background:#7b1fa2;border-radius:0 0 0 2pxpx;"></div>
<div class="t" style="left:686.50px;top:73.84px;height:9.12px;line-height:9.12px;font-size:7.6px;color:#fff;transform:scaleX(.89);transform-origin:0 50%;">set</div>
<div class="a" style="left:698.00px;top:73.90px;width:29.00px;height:8.50px;background:#caa1de;border-radius:2px;"></div>
<div class="t" style="left:700.20px;top:73.59px;height:9.12px;line-height:9.12px;font-size:7.6px;color:#333;transform:scaleX(.89);transform-origin:0 50%;">green</div>
<div class="t" style="left:721.50px;top:75.15px;height:6.00px;line-height:6.00px;font-size:5px;color:#888;">▾</div>
<div class="t" style="left:730.00px;top:73.84px;height:9.12px;line-height:9.12px;font-size:7.6px;color:#fff;transform:scaleX(.89);transform-origin:0 50%;">to</div>
<div class="a" style="left:739.50px;top:75.00px;width:4.50px;height:4.50px;background:#2c9fde;border-radius:1px;"></div>
<div class="a" style="left:743.00px;top:71.20px;width:142.00px;height:23.80px;background:#2c9fde;border-radius:0 2px 2px 0px;"></div>
<div class="a" style="left:750.00px;top:74.00px;width:83.80px;height:18.00px;background:#2c9fde;border-radius:2px;border:1px solid #46ace6;"></div>
<div class="a" style="left:757.00px;top:79.50px;width:3.00px;height:4.00px;background:#7b1fa2;border-radius:1px;"></div>
<div class="a" style="left:759.50px;top:77.00px;width:29.50px;height:12.30px;background:#7b1fa2;border-radius:2px;"></div>
<div class="a" style="left:762.00px;top:78.50px;width:24.50px;height:9.30px;background:#caa1de;border-radius:2px;"></div>
<div class="t" style="left:764.20px;top:78.59px;height:9.12px;line-height:9.12px;font-size:7.6px;color:#333;transform:scaleX(.89);transform-origin:0 50%;">rand</div>
<div class="t" style="left:781.00px;top:80.15px;height:6.00px;line-height:6.00px;font-size:5px;color:#888;">▾</div>
<div class="a" style="left:791.00px;top:78.70px;width:21.00px;height:8.20px;background:#c4e3f7;border-radius:2px;"></div>
<div class="t" style="left:793.20px;top:78.24px;height:9.12px;line-height:9.12px;font-size:7.6px;color:#333;transform:scaleX(.89);transform-origin:0 50%;">>></div>
<div class="t" style="left:806.50px;top:79.80px;height:6.00px;line-height:6.00px;font-size:5px;color:#888;">▾</div>
<div class="a" style="left:818.60px;top:77.50px;width:9.40px;height:10.50px;background:#e0f0fa;border-radius:2px;border:1px solid #bcd5ef;"></div>
<div class="t" style="left:623.30px;width:400px;text-align:center;top:78.19px;height:9.12px;line-height:9.12px;font-size:7.6px;color:#2a2a2a;transform:scaleX(.89);transform-origin:50% 50%;">8</div>
<div class="a" style="left:837.60px;top:77.50px;width:16.20px;height:8.50px;background:#c4e3f7;border-radius:2px;"></div>
<div class="t" style="left:839.80px;top:77.19px;height:9.12px;line-height:9.12px;font-size:7.6px;color:#333;transform:scaleX(.89);transform-origin:0 50%;">&</div>
<div class="t" style="left:848.30px;top:78.75px;height:6.00px;line-height:6.00px;font-size:5px;color:#888;">▾</div>
<div class="a" style="left:861.40px;top:77.00px;width:16.20px;height:10.50px;background:#e0f0fa;border-radius:2px;border:1px solid #bcd5ef;"></div>
<div class="t" style="left:669.50px;width:400px;text-align:center;top:77.69px;height:9.12px;line-height:9.12px;font-size:7.6px;color:#2a2a2a;transform:scaleX(.89);transform-origin:50% 50%;">0xff</div>
<div class="a" style="left:682.50px;top:95.00px;width:60.00px;height:16.30px;background:#7b1fa2;border-radius:0 0 0 2pxpx;"></div>
<div class="t" style="left:686.50px;top:97.64px;height:9.12px;line-height:9.12px;font-size:7.6px;color:#fff;transform:scaleX(.89);transform-origin:0 50%;">set</div>
<div class="a" style="left:698.00px;top:97.70px;width:25.00px;height:8.50px;background:#caa1de;border-radius:2px;"></div>
<div class="t" style="left:700.20px;top:97.39px;height:9.12px;line-height:9.12px;font-size:7.6px;color:#333;transform:scaleX(.89);transform-origin:0 50%;">blue</div>
<div class="t" style="left:717.50px;top:98.95px;height:6.00px;line-height:6.00px;font-size:5px;color:#888;">▾</div>
<div class="t" style="left:726.00px;top:97.64px;height:9.12px;line-height:9.12px;font-size:7.6px;color:#fff;transform:scaleX(.89);transform-origin:0 50%;">to</div>
<div class="a" style="left:735.50px;top:99.00px;width:4.50px;height:4.50px;background:#2c9fde;border-radius:1px;"></div>
<div class="a" style="left:739.50px;top:95.00px;width:86.50px;height:16.30px;background:#2c9fde;border-radius:0 2px 2px 0px;"></div>
<div class="a" style="left:745.50px;top:100.00px;width:3.00px;height:4.00px;background:#7b1fa2;border-radius:1px;"></div>
<div class="a" style="left:748.00px;top:97.50px;width:27.70px;height:11.50px;background:#7b1fa2;border-radius:2px;"></div>
<div class="a" style="left:750.50px;top:99.00px;width:22.70px;height:8.50px;background:#caa1de;border-radius:2px;"></div>
<div class="t" style="left:752.70px;top:98.69px;height:9.12px;line-height:9.12px;font-size:7.6px;color:#333;transform:scaleX(.89);transform-origin:0 50%;">rand</div>
<div class="t" style="left:767.70px;top:100.25px;height:6.00px;line-height:6.00px;font-size:5px;color:#888;">▾</div>
<div class="a" style="left:779.50px;top:99.00px;width:17.20px;height:8.00px;background:#c4e3f7;border-radius:2px;"></div>
<div class="t" style="left:781.70px;top:98.44px;height:9.12px;line-height:9.12px;font-size:7.6px;color:#333;transform:scaleX(.89);transform-origin:0 50%;">&</div>
<div class="t" style="left:791.20px;top:100.00px;height:6.00px;line-height:6.00px;font-size:5px;color:#888;">▾</div>
<div class="a" style="left:804.00px;top:98.00px;width:15.50px;height:9.80px;background:#e0f0fa;border-radius:2px;border:1px solid #bcd5ef;"></div>
<div class="t" style="left:611.75px;width:400px;text-align:center;top:98.34px;height:9.12px;line-height:9.12px;font-size:7.6px;color:#2a2a2a;transform:scaleX(.89);transform-origin:50% 50%;">0xff</div>
<div class="a" style="left:682.50px;top:111.30px;width:17.20px;height:40.50px;background:#58c2a6;border-radius:0 0 0 2pxpx;"></div>
<div class="a" style="left:682.50px;top:145.80px;width:32.00px;height:6.50px;background:#58c2a6;border-radius:0 0 2px 2pxpx;"></div>
<div class="a" style="left:682.50px;top:111.30px;width:156.80px;height:19.50px;background:#58c2a6;border-radius:0 2px 2px 0px;"></div>
<div class="t" style="left:686.80px;top:116.74px;height:9.12px;line-height:9.12px;font-size:7.6px;color:#fff;transform:scaleX(.89);transform-origin:0 50%;">count with</div>
<div class="a" style="left:721.70px;top:117.10px;width:12.90px;height:8.50px;background:#b6e2d4;border-radius:2px;"></div>
<div class="t" style="left:723.90px;top:116.79px;height:9.12px;line-height:9.12px;font-size:7.6px;color:#333;transform:scaleX(.89);transform-origin:0 50%;">j</div>
<div class="t" style="left:729.10px;top:118.35px;height:6.00px;line-height:6.00px;font-size:5px;color:#888;">▾</div>
<div class="t" style="left:736.00px;top:116.74px;height:9.12px;line-height:9.12px;font-size:7.6px;color:#fff;transform:scaleX(.89);transform-origin:0 50%;">from</div>
<div class="a" style="left:756.00px;top:114.80px;width:16.00px;height:13.50px;background:#2c9fde;border-radius:2px;"></div>
<div class="a" style="left:759.50px;top:116.30px;width:11.00px;height:10.50px;background:#e0f0fa;border-radius:2px;border:1px solid #2c9fde;"></div>
<div class="t" style="left:565.00px;width:400px;text-align:center;top:116.99px;height:9.12px;line-height:9.12px;font-size:7.6px;color:#2a2a2a;transform:scaleX(.89);transform-origin:50% 50%;">0</div>
<div class="a" style="left:787.50px;top:114.80px;width:16.00px;height:13.50px;background:#2c9fde;border-radius:2px;"></div>
<div class="a" style="left:791.00px;top:116.30px;width:11.00px;height:10.50px;background:#e0f0fa;border-radius:2px;border:1px solid #2c9fde;"></div>
<div class="t" style="left:596.50px;width:400px;text-align:center;top:116.99px;height:9.12px;line-height:9.12px;font-size:7.6px;color:#2a2a2a;transform:scaleX(.89);transform-origin:50% 50%;">9</div>
<div class="a" style="left:817.00px;top:114.80px;width:16.00px;height:13.50px;background:#2c9fde;border-radius:2px;"></div>
<div class="a" style="left:820.50px;top:116.30px;width:11.00px;height:10.50px;background:#e0f0fa;border-radius:2px;border:1px solid #2c9fde;"></div>
<div class="t" style="left:626.00px;width:400px;text-align:center;top:116.99px;height:9.12px;line-height:9.12px;font-size:7.6px;color:#2a2a2a;transform:scaleX(.89);transform-origin:50% 50%;">1</div>
<div class="t" style="left:776.60px;top:116.74px;height:9.12px;line-height:9.12px;font-size:7.6px;color:#fff;transform:scaleX(.89);transform-origin:0 50%;">to</div>
<div class="t" style="left:807.00px;top:116.74px;height:9.12px;line-height:9.12px;font-size:7.6px;color:#fff;transform:scaleX(.89);transform-origin:0 50%;">by</div>
<div class="t" style="left:686.80px;top:131.74px;height:9.12px;line-height:9.12px;font-size:7.6px;color:#fff;transform:scaleX(.89);transform-origin:0 50%;">do</div>
<div class="a" style="left:696.00px;top:134.00px;width:4.50px;height:4.50px;background:#2ac4a9;border-radius:1px;"></div>
<div class="a" style="left:699.70px;top:130.00px;width:348.30px;height:18.00px;background:#2ac4a9;border-radius:2px;"></div>
<div class="a" style="left:702.00px;top:134.70px;width:38.40px;height:8.60px;background:#b2ebdf;border-radius:2px;"></div>
<div class="t" style="left:704.20px;top:134.44px;height:9.12px;line-height:9.12px;font-size:7.6px;color:#333;transform:scaleX(.89);transform-origin:0 50%;">angle8_2</div>
<div class="t" style="left:734.90px;top:136.00px;height:6.00px;line-height:6.00px;font-size:5px;color:#888;">▾</div>
<div class="t" style="left:742.70px;top:134.80px;height:8.40px;line-height:8.40px;font-size:7px;color:#fff;transform:scaleX(.86);transform-origin:0 50%;">Set RGB LED</div>
<div class="t" style="left:784.70px;top:134.44px;height:9.12px;line-height:9.12px;font-size:7.6px;color:#0a231d;font-weight:bold;transform:scaleX(.95);transform-origin:0 50%;">channel</div>
<div class="a" style="left:814.50px;top:135.20px;width:3.00px;height:4.00px;background:#7b1fa2;border-radius:1px;"></div>
<div class="a" style="left:817.00px;top:132.70px;width:20.40px;height:12.60px;background:#7b1fa2;border-radius:2px;"></div>
<div class="a" style="left:819.50px;top:134.20px;width:15.40px;height:9.60px;background:#caa1de;border-radius:2px;"></div>
<div class="t" style="left:821.70px;top:134.44px;height:9.12px;line-height:9.12px;font-size:7.6px;color:#333;transform:scaleX(.89);transform-origin:0 50%;">j</div>
<div class="t" style="left:829.40px;top:136.00px;height:6.00px;line-height:6.00px;font-size:5px;color:#888;">▾</div>
<div class="t" style="left:842.00px;top:134.44px;height:9.12px;line-height:9.12px;font-size:7.6px;color:#0a231d;font-weight:bold;transform:scaleX(.95);transform-origin:0 50%;">R</div>
<div class="a" style="left:850.00px;top:135.20px;width:3.00px;height:4.00px;background:#7b1fa2;border-radius:1px;"></div>
<div class="a" style="left:852.50px;top:132.70px;width:28.20px;height:12.60px;background:#7b1fa2;border-radius:2px;"></div>
<div class="a" style="left:855.00px;top:134.20px;width:23.20px;height:9.60px;background:#caa1de;border-radius:2px;"></div>
<div class="t" style="left:857.20px;top:134.44px;height:9.12px;line-height:9.12px;font-size:7.6px;color:#333;transform:scaleX(.89);transform-origin:0 50%;">red</div>
<div class="t" style="left:872.70px;top:136.00px;height:6.00px;line-height:6.00px;font-size:5px;color:#888;">▾</div>
<div class="t" style="left:885.80px;top:134.44px;height:9.12px;line-height:9.12px;font-size:7.6px;color:#0a231d;font-weight:bold;transform:scaleX(.95);transform-origin:0 50%;">G</div>
<div class="a" style="left:893.50px;top:135.20px;width:3.00px;height:4.00px;background:#7b1fa2;border-radius:1px;"></div>
<div class="a" style="left:896.00px;top:132.70px;width:35.70px;height:12.60px;background:#7b1fa2;border-radius:2px;"></div>
<div class="a" style="left:898.50px;top:134.20px;width:30.70px;height:9.60px;background:#caa1de;border-radius:2px;"></div>
<div class="t" style="left:900.70px;top:134.44px;height:9.12px;line-height:9.12px;font-size:7.6px;color:#333;transform:scaleX(.89);transform-origin:0 50%;">green</div>
<div class="t" style="left:923.70px;top:136.00px;height:6.00px;line-height:6.00px;font-size:5px;color:#888;">▾</div>
<div class="t" style="left:936.60px;top:134.44px;height:9.12px;line-height:9.12px;font-size:7.6px;color:#0a231d;font-weight:bold;transform:scaleX(.95);transform-origin:0 50%;">B</div>
<div class="a" style="left:943.50px;top:135.20px;width:3.00px;height:4.00px;background:#7b1fa2;border-radius:1px;"></div>
<div class="a" style="left:946.00px;top:132.70px;width:31.00px;height:12.60px;background:#7b1fa2;border-radius:2px;"></div>
<div class="a" style="left:948.50px;top:134.20px;width:26.00px;height:9.60px;background:#caa1de;border-radius:2px;"></div>
<div class="t" style="left:950.70px;top:134.44px;height:9.12px;line-height:9.12px;font-size:7.6px;color:#333;transform:scaleX(.89);transform-origin:0 50%;">blue</div>
<div class="t" style="left:969.00px;top:136.00px;height:6.00px;line-height:6.00px;font-size:5px;color:#888;">▾</div>
<div class="t" style="left:981.80px;top:134.44px;height:9.12px;line-height:9.12px;font-size:7.6px;color:#0a231d;font-weight:bold;transform:scaleX(.95);transform-origin:0 50%;">Brightness</div>
<div class="a" style="left:1025.40px;top:132.50px;width:17.60px;height:13.00px;background:#e8f8f4;border-radius:2px;border:1px solid #a3dfd1;"></div>
<div class="t" style="left:834.20px;width:400px;text-align:center;top:134.44px;height:9.12px;line-height:9.12px;font-size:7.6px;color:#2a2a2a;transform:scaleX(.89);transform-origin:50% 50%;">50</div>
<div class="a" style="left:674.00px;top:163.60px;width:8.60px;height:58.80px;background:#f8be30;"></div>
<div class="a" style="left:674.00px;top:163.60px;width:96.00px;height:12.00px;background:#f8be30;border-radius:3px 3px 0 0px;"></div>
<div class="t" style="left:677.00px;top:165.04px;height:9.12px;line-height:9.12px;font-size:7.6px;color:#fff;transform:scaleX(.89);transform-origin:0 50%;">Button</div>
<div class="a" style="left:700.70px;top:165.70px;width:14.30px;height:7.80px;background:#fde2a6;border-radius:2px;"></div>
<div class="t" style="left:702.90px;top:165.04px;height:9.12px;line-height:9.12px;font-size:7.6px;color:#333;transform:scaleX(.89);transform-origin:0 50%;">C</div>
<div class="t" style="left:709.50px;top:166.60px;height:6.00px;line-height:6.00px;font-size:5px;color:#888;">▾</div>
<div class="a" style="left:720.00px;top:165.70px;width:47.00px;height:7.80px;background:#fde2a6;border-radius:2px;"></div>
<div class="t" style="left:722.20px;top:165.04px;height:9.12px;line-height:9.12px;font-size:7.6px;color:#333;transform:scaleX(.89);transform-origin:0 50%;">wasPressed</div>
<div class="t" style="left:761.50px;top:166.60px;height:6.00px;line-height:6.00px;font-size:5px;color:#888;">▾</div>
<div class="a" style="left:674.00px;top:217.30px;width:96.00px;height:5.10px;background:#f8be30;border-radius:0 0 2px 0px;"></div>
<div class="a" style="left:682.50px;top:175.70px;width:17.20px;height:40.50px;background:#58c2a6;border-radius:0 0 0 2pxpx;"></div>
<div class="a" style="left:682.50px;top:210.20px;width:32.00px;height:6.50px;background:#58c2a6;border-radius:0 0 2px 2pxpx;"></div>
<div class="a" style="left:682.50px;top:175.70px;width:156.80px;height:17.80px;background:#58c2a6;border-radius:0 2px 2px 0px;"></div>
<div class="t" style="left:686.80px;top:181.14px;height:9.12px;line-height:9.12px;font-size:7.6px;color:#fff;transform:scaleX(.89);transform-origin:0 50%;">count with</div>
<div class="a" style="left:721.70px;top:181.50px;width:12.90px;height:8.50px;background:#b6e2d4;border-radius:2px;"></div>
<div class="t" style="left:723.90px;top:181.19px;height:9.12px;line-height:9.12px;font-size:7.6px;color:#333;transform:scaleX(.89);transform-origin:0 50%;">j</div>
<div class="t" style="left:729.10px;top:182.75px;height:6.00px;line-height:6.00px;font-size:5px;color:#888;">▾</div>
<div class="t" style="left:736.00px;top:181.14px;height:9.12px;line-height:9.12px;font-size:7.6px;color:#fff;transform:scaleX(.89);transform-origin:0 50%;">from</div>
<div class="a" style="left:756.00px;top:179.20px;width:16.00px;height:13.50px;background:#2c9fde;border-radius:2px;"></div>
<div class="a" style="left:759.50px;top:180.70px;width:11.00px;height:10.50px;background:#e0f0fa;border-radius:2px;border:1px solid #2c9fde;"></div>
<div class="t" style="left:565.00px;width:400px;text-align:center;top:181.39px;height:9.12px;line-height:9.12px;font-size:7.6px;color:#2a2a2a;transform:scaleX(.89);transform-origin:50% 50%;">0</div>
<div class="a" style="left:787.50px;top:179.20px;width:16.00px;height:13.50px;background:#2c9fde;border-radius:2px;"></div>
<div class="a" style="left:791.00px;top:180.70px;width:11.00px;height:10.50px;background:#e0f0fa;border-radius:2px;border:1px solid #2c9fde;"></div>
<div class="t" style="left:596.50px;width:400px;text-align:center;top:181.39px;height:9.12px;line-height:9.12px;font-size:7.6px;color:#2a2a2a;transform:scaleX(.89);transform-origin:50% 50%;">9</div>
<div class="a" style="left:817.00px;top:179.20px;width:16.00px;height:13.50px;background:#2c9fde;border-radius:2px;"></div>
<div class="a" style="left:820.50px;top:180.70px;width:11.00px;height:10.50px;background:#e0f0fa;border-radius:2px;border:1px solid #2c9fde;"></div>
<div class="t" style="left:626.00px;width:400px;text-align:center;top:181.39px;height:9.12px;line-height:9.12px;font-size:7.6px;color:#2a2a2a;transform:scaleX(.89);transform-origin:50% 50%;">1</div>
<div class="t" style="left:776.60px;top:181.14px;height:9.12px;line-height:9.12px;font-size:7.6px;color:#fff;transform:scaleX(.89);transform-origin:0 50%;">to</div>
<div class="t" style="left:807.00px;top:181.14px;height:9.12px;line-height:9.12px;font-size:7.6px;color:#fff;transform:scaleX(.89);transform-origin:0 50%;">by</div>
<div class="t" style="left:686.80px;top:196.14px;height:9.12px;line-height:9.12px;font-size:7.6px;color:#fff;transform:scaleX(.89);transform-origin:0 50%;">do</div>
<div class="a" style="left:696.00px;top:196.70px;width:4.50px;height:4.50px;background:#2ac4a9;border-radius:1px;"></div>
<div class="a" style="left:699.70px;top:192.70px;width:293.30px;height:18.00px;background:#2ac4a9;border-radius:2px;"></div>
<div class="a" style="left:702.00px;top:197.40px;width:38.40px;height:8.60px;background:#b2ebdf;border-radius:2px;"></div>
<div class="t" style="left:704.20px;top:197.14px;height:9.12px;line-height:9.12px;font-size:7.6px;color:#333;transform:scaleX(.89);transform-origin:0 50%;">angle8_2</div>
<div class="t" style="left:734.90px;top:198.70px;height:6.00px;line-height:6.00px;font-size:5px;color:#888;">▾</div>
<div class="t" style="left:742.70px;top:197.50px;height:8.40px;line-height:8.40px;font-size:7px;color:#fff;transform:scaleX(.86);transform-origin:0 50%;">Set RGB LED</div>
<div class="t" style="left:784.70px;top:197.14px;height:9.12px;line-height:9.12px;font-size:7.6px;color:#0a231d;font-weight:bold;transform:scaleX(.95);transform-origin:0 50%;">channel</div>
<div class="a" style="left:814.50px;top:197.90px;width:3.00px;height:4.00px;background:#7b1fa2;border-radius:1px;"></div>
<div class="a" style="left:817.00px;top:195.40px;width:20.40px;height:12.60px;background:#7b1fa2;border-radius:2px;"></div>
<div class="a" style="left:819.50px;top:196.90px;width:15.40px;height:9.60px;background:#caa1de;border-radius:2px;"></div>
<div class="t" style="left:821.70px;top:197.14px;height:9.12px;line-height:9.12px;font-size:7.6px;color:#333;transform:scaleX(.89);transform-origin:0 50%;">j</div>
<div class="t" style="left:829.40px;top:198.70px;height:6.00px;line-height:6.00px;font-size:5px;color:#888;">▾</div>
<div class="t" style="left:842.00px;top:197.14px;height:9.12px;line-height:9.12px;font-size:7.6px;color:#0a231d;font-weight:bold;transform:scaleX(.95);transform-origin:0 50%;">R</div>
<div class="a" style="left:852.50px;top:195.20px;width:14.50px;height:13.00px;background:#e8f8f4;border-radius:2px;border:1px solid #a3dfd1;"></div>
<div class="t" style="left:659.75px;width:400px;text-align:center;top:197.14px;height:9.12px;line-height:9.12px;font-size:7.6px;color:#2a2a2a;transform:scaleX(.89);transform-origin:50% 50%;">0</div>
<div class="t" style="left:873.50px;top:197.14px;height:9.12px;line-height:9.12px;font-size:7.6px;color:#0a231d;font-weight:bold;transform:scaleX(.95);transform-origin:0 50%;">G</div>
<div class="a" style="left:883.00px;top:195.20px;width:13.00px;height:13.00px;background:#e8f8f4;border-radius:2px;border:1px solid #a3dfd1;"></div>
<div class="t" style="left:689.50px;width:400px;text-align:center;top:197.14px;height:9.12px;line-height:9.12px;font-size:7.6px;color:#2a2a2a;transform:scaleX(.89);transform-origin:50% 50%;">0</div>
<div class="t" style="left:902.60px;top:197.14px;height:9.12px;line-height:9.12px;font-size:7.6px;color:#0a231d;font-weight:bold;transform:scaleX(.95);transform-origin:0 50%;">B</div>
<div class="a" style="left:914.00px;top:195.20px;width:11.00px;height:13.00px;background:#e8f8f4;border-radius:2px;border:1px solid #a3dfd1;"></div>
<div class="t" style="left:719.50px;width:400px;text-align:center;top:197.14px;height:9.12px;line-height:9.12px;font-size:7.6px;color:#2a2a2a;transform:scaleX(.89);transform-origin:50% 50%;">0</div>
<div class="t" style="left:930.00px;top:197.14px;height:9.12px;line-height:9.12px;font-size:7.6px;color:#0a231d;font-weight:bold;transform:scaleX(.95);transform-origin:0 50%;">Brightness</div>
<div class="a" style="left:973.70px;top:195.20px;width:14.30px;height:13.00px;background:#e8f8f4;border-radius:2px;border:1px solid #a3dfd1;"></div>
<div class="t" style="left:780.85px;width:400px;text-align:center;top:197.14px;height:9.12px;line-height:9.12px;font-size:7.6px;color:#2a2a2a;transform:scaleX(.89);transform-origin:50% 50%;">0</div>
<div class="a" style="left:1196.50px;top:122.50px;width:4.50px;height:251.50px;background:#cfcfcf;border-radius:2.2px;"></div>
<div class="a" style="left:583.80px;top:534.60px;width:466.00px;height:5.40px;background:#d0cccc;border-radius:2.7px;"></div>
<div class="a" style="left:3.00px;top:542.00px;width:1200.00px;height:12.50px;background:#0b6ee8;"></div>
<div class="t" style="left:19.00px;top:544.08px;height:8.64px;line-height:8.64px;font-size:7.2px;color:#fff;font-weight:bold;">Api key</div>
<svg class="a" style="left:48px;top:543px;" width="11" height="11" viewBox="0 0 11 11"><circle cx="7.3" cy="3.7" r="2.6" fill="none" stroke="#bfe0ff" stroke-width="1"/><path d="M5.5 5.5 L1.5 9.5 M2.5 8.5 L3.8 9.8 M3.6 7.4 L4.9 8.7" stroke="#bfe0ff" stroke-width="1" fill="none"/></svg>
<div class="t" style="left:61.60px;top:543.84px;height:9.12px;line-height:9.12px;font-size:7.6px;color:#fff;font-weight:bold;">46585193</div>
<div class="t" style="left:104.00px;top:542.80px;height:10.80px;line-height:10.80px;font-size:9px;color:#fff;font-weight:bold;">[</div>
<div class="t" style="left:110.00px;top:543.60px;height:9.60px;line-height:9.60px;font-size:8px;color:#c2489a;">Disconnected</div>
<div class="t" style="left:161.50px;top:542.80px;height:10.80px;line-height:10.80px;font-size:9px;color:#fff;font-weight:bold;">]</div>
<svg class="a" style="left:169px;top:543px;" width="56" height="11" viewBox="0 0 56 11"><g fill="none" stroke="#fff" stroke-width="1.2"><path d="M2 4 A4 3.5 0 0 1 9 3.5 M9 7 A4 3.5 0 0 1 2 7.5"/><path d="M7 1.5 L9.2 3.8 L6.8 4.8 M4 9.5 L1.8 7.2 L4.2 6.2"/><rect x="16.5" y="1" width="9" height="9" rx="1"/><rect x="18.5" y="1" width="5" height="3"/><rect x="18.5" y="6" width="5" height="4"/><path d="M31.5 2 L34.5 2 L35.5 3 L40 3 L40 9.5 L31.5 9.5 Z"/><path d="M31.5 9.5 L33 5 L41.5 5 L40 9.5"/><path d="M50.5 1 L50.5 7 M47.5 4.5 L50.5 7.5 L53.5 4.5 M46 9.8 L55 9.8"/></g></svg>
<div class="t" style="left:560.00px;top:543.92px;height:8.76px;line-height:8.76px;font-size:7.3px;color:#fff;font-weight:bold;">Copyright ©2022 M5Stack</div>
</body></html>
